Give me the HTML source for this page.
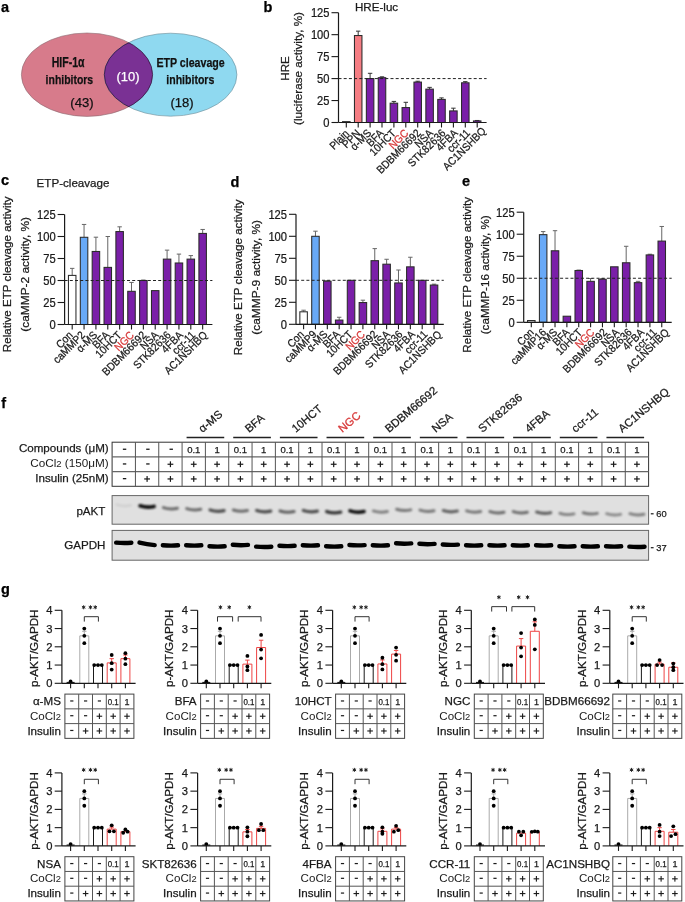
<!DOCTYPE html>
<html><head><meta charset="utf-8"><style>
html,body{margin:0;padding:0;background:#fff;overflow:hidden;}
svg{display:block;will-change:transform;}
text{font-family:"Liberation Sans", sans-serif;}
</style></head><body>
<svg width="685" height="902" viewBox="0 0 685 902">
<rect width="685" height="902" fill="#fff"/>
<text x="1.00" y="11.80" font-size="14.5" text-anchor="start" fill="#000" stroke="#000" stroke-width="0.25" font-weight="bold">a</text>
<text x="263.50" y="12.00" font-size="14.5" text-anchor="start" fill="#000" stroke="#000" stroke-width="0.25" font-weight="bold">b</text>
<text x="1.00" y="185.00" font-size="14.5" text-anchor="start" fill="#000" stroke="#000" stroke-width="0.25" font-weight="bold">c</text>
<text x="230.50" y="187.00" font-size="14.5" text-anchor="start" fill="#000" stroke="#000" stroke-width="0.25" font-weight="bold">d</text>
<text x="462.00" y="185.50" font-size="14.5" text-anchor="start" fill="#000" stroke="#000" stroke-width="0.25" font-weight="bold">e</text>
<text x="1.20" y="407.80" font-size="14.5" text-anchor="start" fill="#000" stroke="#000" stroke-width="0.25" font-weight="bold">f</text>
<text x="1.00" y="594.00" font-size="14.5" text-anchor="start" fill="#000" stroke="#000" stroke-width="0.25" font-weight="bold">g</text>
<clipPath id="clipL"><ellipse cx="87" cy="74.7" rx="65.6" ry="41.7"/></clipPath>
<clipPath id="clipR"><ellipse cx="170.6" cy="74.7" rx="66.3" ry="41.5"/></clipPath>
<ellipse cx="87" cy="74.7" rx="65.6" ry="41.7" fill="#d77b8b" stroke="#8a6a70" stroke-width="0.6"/>
<ellipse cx="170.6" cy="74.7" rx="66.3" ry="41.5" fill="#8fd9f0" stroke="#6a8a95" stroke-width="0.6"/>
<ellipse cx="170.6" cy="74.7" rx="66.3" ry="41.5" fill="#7a3194" stroke="#2a1030" stroke-width="0.7" clip-path="url(#clipL)"/>
<ellipse cx="87" cy="74.7" rx="65.6" ry="41.7" fill="none" stroke="#2a1030" stroke-width="0.7" clip-path="url(#clipR)"/>
<text x="68.10" y="67.40" font-size="14" text-anchor="middle" fill="#111" stroke="#111" stroke-width="0.25" font-weight="bold" textLength="32.80" lengthAdjust="spacingAndGlyphs">HIF-1α</text>
<text x="69.40" y="84.20" font-size="13.6" text-anchor="middle" fill="#111" stroke="#111" stroke-width="0.25" font-weight="bold" textLength="47.60" lengthAdjust="spacingAndGlyphs">inhibitors</text>
<text x="82.00" y="107.20" font-size="13.2" text-anchor="middle" fill="#111" stroke="#111" stroke-width="0.25" textLength="23.30" lengthAdjust="spacingAndGlyphs">(43)</text>
<text x="128.00" y="81.00" font-size="13.2" text-anchor="middle" fill="#fff" stroke="#fff" stroke-width="0.25" textLength="23.00" lengthAdjust="spacingAndGlyphs">(10)</text>
<text x="190.60" y="67.00" font-size="13.6" text-anchor="middle" fill="#111" stroke="#111" stroke-width="0.25" font-weight="bold" textLength="68.30" lengthAdjust="spacingAndGlyphs">ETP cleavage</text>
<text x="190.30" y="83.60" font-size="13.6" text-anchor="middle" fill="#111" stroke="#111" stroke-width="0.25" font-weight="bold" textLength="48.00" lengthAdjust="spacingAndGlyphs">inhibitors</text>
<text x="182.10" y="107.00" font-size="13.2" text-anchor="middle" fill="#111" stroke="#111" stroke-width="0.25" textLength="23.20" lengthAdjust="spacingAndGlyphs">(18)</text>
<rect x="342.55" y="121.62" width="7.50" height="0.88" fill="#fff" stroke="#2a2a2a" stroke-width="1.05" />
<line x1="358.20" y1="35.54" x2="358.20" y2="31.15" stroke="#333" stroke-width="1" />
<line x1="356.00" y1="31.15" x2="360.40" y2="31.15" stroke="#333" stroke-width="1" />
<rect x="354.45" y="35.54" width="7.50" height="86.96" fill="#f57d83" stroke="#2a2a2a" stroke-width="1.05" />
<line x1="370.10" y1="78.58" x2="370.10" y2="73.31" stroke="#333" stroke-width="1" />
<line x1="367.90" y1="73.31" x2="372.30" y2="73.31" stroke="#333" stroke-width="1" />
<rect x="366.35" y="78.58" width="7.50" height="43.92" fill="#7a1fa8" stroke="#2a2a2a" stroke-width="1.05" />
<line x1="382.00" y1="77.70" x2="382.00" y2="76.82" stroke="#333" stroke-width="1" />
<line x1="379.80" y1="76.82" x2="384.20" y2="76.82" stroke="#333" stroke-width="1" />
<rect x="378.25" y="77.70" width="7.50" height="44.80" fill="#7a1fa8" stroke="#2a2a2a" stroke-width="1.05" />
<line x1="393.90" y1="103.18" x2="393.90" y2="101.42" stroke="#333" stroke-width="1" />
<line x1="391.70" y1="101.42" x2="396.10" y2="101.42" stroke="#333" stroke-width="1" />
<rect x="390.15" y="103.18" width="7.50" height="19.32" fill="#7a1fa8" stroke="#2a2a2a" stroke-width="1.05" />
<line x1="405.80" y1="107.57" x2="405.80" y2="102.30" stroke="#333" stroke-width="1" />
<line x1="403.60" y1="102.30" x2="408.00" y2="102.30" stroke="#333" stroke-width="1" />
<rect x="402.05" y="107.57" width="7.50" height="14.93" fill="#7a1fa8" stroke="#2a2a2a" stroke-width="1.05" />
<line x1="417.70" y1="82.09" x2="417.70" y2="81.22" stroke="#333" stroke-width="1" />
<line x1="415.50" y1="81.22" x2="419.90" y2="81.22" stroke="#333" stroke-width="1" />
<rect x="413.95" y="82.09" width="7.50" height="40.41" fill="#7a1fa8" stroke="#2a2a2a" stroke-width="1.05" />
<line x1="429.60" y1="89.12" x2="429.60" y2="87.36" stroke="#333" stroke-width="1" />
<line x1="427.40" y1="87.36" x2="431.80" y2="87.36" stroke="#333" stroke-width="1" />
<rect x="425.85" y="89.12" width="7.50" height="33.38" fill="#7a1fa8" stroke="#2a2a2a" stroke-width="1.05" />
<line x1="441.50" y1="99.40" x2="441.50" y2="97.90" stroke="#333" stroke-width="1" />
<line x1="439.30" y1="97.90" x2="443.70" y2="97.90" stroke="#333" stroke-width="1" />
<rect x="437.75" y="99.40" width="7.50" height="23.10" fill="#7a1fa8" stroke="#2a2a2a" stroke-width="1.05" />
<line x1="453.40" y1="110.91" x2="453.40" y2="108.18" stroke="#333" stroke-width="1" />
<line x1="451.20" y1="108.18" x2="455.60" y2="108.18" stroke="#333" stroke-width="1" />
<rect x="449.65" y="110.91" width="7.50" height="11.59" fill="#7a1fa8" stroke="#2a2a2a" stroke-width="1.05" />
<line x1="465.30" y1="82.80" x2="465.30" y2="81.65" stroke="#333" stroke-width="1" />
<line x1="463.10" y1="81.65" x2="467.50" y2="81.65" stroke="#333" stroke-width="1" />
<rect x="461.55" y="82.80" width="7.50" height="39.70" fill="#7a1fa8" stroke="#2a2a2a" stroke-width="1.05" />
<line x1="477.20" y1="120.92" x2="477.20" y2="120.48" stroke="#333" stroke-width="1" />
<line x1="475.00" y1="120.48" x2="479.40" y2="120.48" stroke="#333" stroke-width="1" />
<rect x="473.45" y="120.92" width="7.50" height="1.58" fill="#7a1fa8" stroke="#2a2a2a" stroke-width="1.05" />
<line x1="338.50" y1="78.58" x2="486.60" y2="78.58" stroke="#222" stroke-width="1" stroke-dasharray="3,2.2"/>
<line x1="338.50" y1="12.70" x2="338.50" y2="122.50" stroke="#1a1a1a" stroke-width="1.2" />
<line x1="331.50" y1="122.50" x2="338.50" y2="122.50" stroke="#1a1a1a" stroke-width="1.1" />
<text x="0" y="0" font-size="12" text-anchor="end" fill="#1a1a1a" stroke="#1a1a1a" stroke-width="0.25" transform="translate(329.50,126.80) scale(0.93,1)">0</text>
<line x1="331.50" y1="100.54" x2="338.50" y2="100.54" stroke="#1a1a1a" stroke-width="1.1" />
<text x="0" y="0" font-size="12" text-anchor="end" fill="#1a1a1a" stroke="#1a1a1a" stroke-width="0.25" transform="translate(329.50,104.84) scale(0.93,1)">25</text>
<line x1="331.50" y1="78.58" x2="338.50" y2="78.58" stroke="#1a1a1a" stroke-width="1.1" />
<text x="0" y="0" font-size="12" text-anchor="end" fill="#1a1a1a" stroke="#1a1a1a" stroke-width="0.25" transform="translate(329.50,82.88) scale(0.93,1)">50</text>
<line x1="331.50" y1="56.62" x2="338.50" y2="56.62" stroke="#1a1a1a" stroke-width="1.1" />
<text x="0" y="0" font-size="12" text-anchor="end" fill="#1a1a1a" stroke="#1a1a1a" stroke-width="0.25" transform="translate(329.50,60.92) scale(0.93,1)">75</text>
<line x1="331.50" y1="34.66" x2="338.50" y2="34.66" stroke="#1a1a1a" stroke-width="1.1" />
<text x="0" y="0" font-size="12" text-anchor="end" fill="#1a1a1a" stroke="#1a1a1a" stroke-width="0.25" transform="translate(329.50,38.96) scale(0.93,1)">100</text>
<line x1="331.50" y1="12.70" x2="338.50" y2="12.70" stroke="#1a1a1a" stroke-width="1.1" />
<text x="0" y="0" font-size="12" text-anchor="end" fill="#1a1a1a" stroke="#1a1a1a" stroke-width="0.25" transform="translate(329.50,17.00) scale(0.93,1)">125</text>
<line x1="338.50" y1="122.50" x2="486.60" y2="122.50" stroke="#1a1a1a" stroke-width="1.2" />
<line x1="346.30" y1="122.50" x2="346.30" y2="127.50" stroke="#1a1a1a" stroke-width="1.1" />
<text x="0" y="0" font-size="11" text-anchor="end" fill="#1a1a1a" stroke="#1a1a1a" stroke-width="0.25" transform="translate(349.80,134.30) rotate(-45) scale(0.92,1)">Plain</text>
<line x1="358.20" y1="122.50" x2="358.20" y2="127.50" stroke="#1a1a1a" stroke-width="1.1" />
<text x="0" y="0" font-size="11" text-anchor="end" fill="#1a1a1a" stroke="#1a1a1a" stroke-width="0.25" transform="translate(361.15,134.10) rotate(-45) scale(0.92,1)">PPN</text>
<line x1="370.10" y1="122.50" x2="370.10" y2="127.50" stroke="#1a1a1a" stroke-width="1.1" />
<text x="0" y="0" font-size="11" text-anchor="end" fill="#1a1a1a" stroke="#1a1a1a" stroke-width="0.25" transform="translate(372.00,133.80) rotate(-45) scale(0.92,1)">α-MS</text>
<line x1="382.00" y1="122.50" x2="382.00" y2="127.50" stroke="#1a1a1a" stroke-width="1.1" />
<text x="0" y="0" font-size="11" text-anchor="end" fill="#1a1a1a" stroke="#1a1a1a" stroke-width="0.25" transform="translate(384.35,133.80) rotate(-45) scale(0.92,1)">BFA</text>
<line x1="393.90" y1="122.50" x2="393.90" y2="127.50" stroke="#1a1a1a" stroke-width="1.1" />
<text x="0" y="0" font-size="11" text-anchor="end" fill="#1a1a1a" stroke="#1a1a1a" stroke-width="0.25" transform="translate(396.70,133.80) rotate(-45) scale(0.92,1)">10HCT</text>
<line x1="405.80" y1="122.50" x2="405.80" y2="127.50" stroke="#1a1a1a" stroke-width="1.1" />
<text x="0" y="0" font-size="11" text-anchor="end" fill="#d83a3a" stroke="#d83a3a" stroke-width="0.25" transform="translate(409.05,133.80) rotate(-45) scale(0.92,1)">NGC</text>
<line x1="417.70" y1="122.50" x2="417.70" y2="127.50" stroke="#1a1a1a" stroke-width="1.1" />
<text x="0" y="0" font-size="11" text-anchor="end" fill="#1a1a1a" stroke="#1a1a1a" stroke-width="0.25" transform="translate(421.40,133.80) rotate(-45) scale(0.92,1)">BDBM66692</text>
<line x1="429.60" y1="122.50" x2="429.60" y2="127.50" stroke="#1a1a1a" stroke-width="1.1" />
<text x="0" y="0" font-size="11" text-anchor="end" fill="#1a1a1a" stroke="#1a1a1a" stroke-width="0.25" transform="translate(433.75,133.80) rotate(-45) scale(0.92,1)">NSA</text>
<line x1="441.50" y1="122.50" x2="441.50" y2="127.50" stroke="#1a1a1a" stroke-width="1.1" />
<text x="0" y="0" font-size="11" text-anchor="end" fill="#1a1a1a" stroke="#1a1a1a" stroke-width="0.25" transform="translate(446.10,133.80) rotate(-45) scale(0.92,1)">STK82636</text>
<line x1="453.40" y1="122.50" x2="453.40" y2="127.50" stroke="#1a1a1a" stroke-width="1.1" />
<text x="0" y="0" font-size="11" text-anchor="end" fill="#1a1a1a" stroke="#1a1a1a" stroke-width="0.25" transform="translate(458.45,133.80) rotate(-45) scale(0.92,1)">4FBA</text>
<line x1="465.30" y1="122.50" x2="465.30" y2="127.50" stroke="#1a1a1a" stroke-width="1.1" />
<text x="0" y="0" font-size="11" text-anchor="end" fill="#1a1a1a" stroke="#1a1a1a" stroke-width="0.25" transform="translate(470.80,133.80) rotate(-45) scale(0.92,1)">ccr-11</text>
<line x1="477.20" y1="122.50" x2="477.20" y2="127.50" stroke="#1a1a1a" stroke-width="1.1" />
<text x="0" y="0" font-size="11" text-anchor="end" fill="#1a1a1a" stroke="#1a1a1a" stroke-width="0.25" transform="translate(486.65,131.80) rotate(-45) scale(0.92,1)">AC1NSHBQ</text>
<text x="355.00" y="11.40" font-size="11.6" text-anchor="start" fill="#1a1a1a" stroke="#1a1a1a" stroke-width="0.25">HRE-luc</text>
<text x="0" y="0" font-size="11.6" text-anchor="middle" fill="#1a1a1a" stroke="#1a1a1a" stroke-width="0.25" transform="translate(288.80,68.50) rotate(-90)">HRE</text>
<text x="0" y="0" font-size="11.6" text-anchor="middle" fill="#1a1a1a" stroke="#1a1a1a" stroke-width="0.25" textLength="113.00" lengthAdjust="spacingAndGlyphs" transform="translate(301.80,68.50) rotate(-90)">(luciferase activity, %)</text>
<line x1="72.20" y1="275.40" x2="72.20" y2="268.36" stroke="#666" stroke-width="1" />
<line x1="70.00" y1="268.36" x2="74.40" y2="268.36" stroke="#666" stroke-width="1" />
<rect x="68.45" y="275.40" width="7.50" height="49.10" fill="#fff" stroke="#2a2a2a" stroke-width="1.05" />
<line x1="84.06" y1="237.29" x2="84.06" y2="224.44" stroke="#666" stroke-width="1" />
<line x1="81.86" y1="224.44" x2="86.26" y2="224.44" stroke="#666" stroke-width="1" />
<rect x="80.31" y="237.29" width="7.50" height="87.21" fill="#68a9f7" stroke="#2a2a2a" stroke-width="1.05" />
<line x1="95.92" y1="251.46" x2="95.92" y2="237.20" stroke="#666" stroke-width="1" />
<line x1="93.72" y1="237.20" x2="98.12" y2="237.20" stroke="#666" stroke-width="1" />
<rect x="92.17" y="251.46" width="7.50" height="73.04" fill="#7a1fa8" stroke="#2a2a2a" stroke-width="1.05" />
<line x1="107.78" y1="267.39" x2="107.78" y2="236.50" stroke="#666" stroke-width="1" />
<line x1="105.58" y1="236.50" x2="109.98" y2="236.50" stroke="#666" stroke-width="1" />
<rect x="104.03" y="267.39" width="7.50" height="57.11" fill="#7a1fa8" stroke="#2a2a2a" stroke-width="1.05" />
<line x1="119.64" y1="231.57" x2="119.64" y2="226.82" stroke="#666" stroke-width="1" />
<line x1="117.44" y1="226.82" x2="121.84" y2="226.82" stroke="#666" stroke-width="1" />
<rect x="115.89" y="231.57" width="7.50" height="92.93" fill="#7a1fa8" stroke="#2a2a2a" stroke-width="1.05" />
<line x1="131.50" y1="291.32" x2="131.50" y2="282.44" stroke="#666" stroke-width="1" />
<line x1="129.30" y1="282.44" x2="133.70" y2="282.44" stroke="#666" stroke-width="1" />
<rect x="127.75" y="291.32" width="7.50" height="33.18" fill="#7a1fa8" stroke="#2a2a2a" stroke-width="1.05" />
<line x1="143.36" y1="280.50" x2="143.36" y2="280.06" stroke="#666" stroke-width="1" />
<line x1="141.16" y1="280.06" x2="145.56" y2="280.06" stroke="#666" stroke-width="1" />
<rect x="139.61" y="280.50" width="7.50" height="44.00" fill="#7a1fa8" stroke="#2a2a2a" stroke-width="1.05" />
<rect x="151.47" y="290.62" width="7.50" height="33.88" fill="#7a1fa8" stroke="#2a2a2a" stroke-width="1.05" />
<line x1="167.08" y1="259.12" x2="167.08" y2="250.14" stroke="#666" stroke-width="1" />
<line x1="164.88" y1="250.14" x2="169.28" y2="250.14" stroke="#666" stroke-width="1" />
<rect x="163.33" y="259.12" width="7.50" height="65.38" fill="#7a1fa8" stroke="#2a2a2a" stroke-width="1.05" />
<line x1="178.94" y1="262.99" x2="178.94" y2="254.10" stroke="#666" stroke-width="1" />
<line x1="176.74" y1="254.10" x2="181.14" y2="254.10" stroke="#666" stroke-width="1" />
<rect x="175.19" y="262.99" width="7.50" height="61.51" fill="#7a1fa8" stroke="#2a2a2a" stroke-width="1.05" />
<line x1="190.80" y1="259.12" x2="190.80" y2="255.60" stroke="#666" stroke-width="1" />
<line x1="188.60" y1="255.60" x2="193.00" y2="255.60" stroke="#666" stroke-width="1" />
<rect x="187.05" y="259.12" width="7.50" height="65.38" fill="#7a1fa8" stroke="#2a2a2a" stroke-width="1.05" />
<line x1="202.66" y1="233.42" x2="202.66" y2="229.46" stroke="#666" stroke-width="1" />
<line x1="200.46" y1="229.46" x2="204.86" y2="229.46" stroke="#666" stroke-width="1" />
<rect x="198.91" y="233.42" width="7.50" height="91.08" fill="#7a1fa8" stroke="#2a2a2a" stroke-width="1.05" />
<line x1="64.60" y1="280.50" x2="212.40" y2="280.50" stroke="#222" stroke-width="1" stroke-dasharray="3,2.2"/>
<line x1="64.60" y1="214.50" x2="64.60" y2="324.50" stroke="#1a1a1a" stroke-width="1.2" />
<line x1="57.60" y1="324.50" x2="64.60" y2="324.50" stroke="#1a1a1a" stroke-width="1.1" />
<text x="0" y="0" font-size="12" text-anchor="end" fill="#1a1a1a" stroke="#1a1a1a" stroke-width="0.25" transform="translate(55.60,328.80) scale(0.93,1)">0</text>
<line x1="57.60" y1="302.50" x2="64.60" y2="302.50" stroke="#1a1a1a" stroke-width="1.1" />
<text x="0" y="0" font-size="12" text-anchor="end" fill="#1a1a1a" stroke="#1a1a1a" stroke-width="0.25" transform="translate(55.60,306.80) scale(0.93,1)">25</text>
<line x1="57.60" y1="280.50" x2="64.60" y2="280.50" stroke="#1a1a1a" stroke-width="1.1" />
<text x="0" y="0" font-size="12" text-anchor="end" fill="#1a1a1a" stroke="#1a1a1a" stroke-width="0.25" transform="translate(55.60,284.80) scale(0.93,1)">50</text>
<line x1="57.60" y1="258.50" x2="64.60" y2="258.50" stroke="#1a1a1a" stroke-width="1.1" />
<text x="0" y="0" font-size="12" text-anchor="end" fill="#1a1a1a" stroke="#1a1a1a" stroke-width="0.25" transform="translate(55.60,262.80) scale(0.93,1)">75</text>
<line x1="57.60" y1="236.50" x2="64.60" y2="236.50" stroke="#1a1a1a" stroke-width="1.1" />
<text x="0" y="0" font-size="12" text-anchor="end" fill="#1a1a1a" stroke="#1a1a1a" stroke-width="0.25" transform="translate(55.60,240.80) scale(0.93,1)">100</text>
<line x1="57.60" y1="214.50" x2="64.60" y2="214.50" stroke="#1a1a1a" stroke-width="1.1" />
<text x="0" y="0" font-size="12" text-anchor="end" fill="#1a1a1a" stroke="#1a1a1a" stroke-width="0.25" transform="translate(55.60,218.80) scale(0.93,1)">125</text>
<line x1="64.60" y1="324.50" x2="212.40" y2="324.50" stroke="#1a1a1a" stroke-width="1.2" />
<line x1="72.20" y1="324.50" x2="72.20" y2="329.50" stroke="#1a1a1a" stroke-width="1.1" />
<text x="0" y="0" font-size="11" text-anchor="end" fill="#1a1a1a" stroke="#1a1a1a" stroke-width="0.25" transform="translate(73.50,335.80) rotate(-45) scale(0.92,1)">Con</text>
<line x1="84.06" y1="324.50" x2="84.06" y2="329.50" stroke="#1a1a1a" stroke-width="1.1" />
<text x="0" y="0" font-size="11" text-anchor="end" fill="#1a1a1a" stroke="#1a1a1a" stroke-width="0.25" transform="translate(85.74,335.80) rotate(-45) scale(0.92,1)">caMMP2</text>
<line x1="95.92" y1="324.50" x2="95.92" y2="329.50" stroke="#1a1a1a" stroke-width="1.1" />
<text x="0" y="0" font-size="11" text-anchor="end" fill="#1a1a1a" stroke="#1a1a1a" stroke-width="0.25" transform="translate(97.98,335.80) rotate(-45) scale(0.92,1)">α-MS</text>
<line x1="107.78" y1="324.50" x2="107.78" y2="329.50" stroke="#1a1a1a" stroke-width="1.1" />
<text x="0" y="0" font-size="11" text-anchor="end" fill="#1a1a1a" stroke="#1a1a1a" stroke-width="0.25" transform="translate(110.22,335.80) rotate(-45) scale(0.92,1)">BFA</text>
<line x1="119.64" y1="324.50" x2="119.64" y2="329.50" stroke="#1a1a1a" stroke-width="1.1" />
<text x="0" y="0" font-size="11" text-anchor="end" fill="#1a1a1a" stroke="#1a1a1a" stroke-width="0.25" transform="translate(122.46,335.80) rotate(-45) scale(0.92,1)">10HCT</text>
<line x1="131.50" y1="324.50" x2="131.50" y2="329.50" stroke="#1a1a1a" stroke-width="1.1" />
<text x="0" y="0" font-size="11" text-anchor="end" fill="#d83a3a" stroke="#d83a3a" stroke-width="0.25" transform="translate(134.70,335.80) rotate(-45) scale(0.92,1)">NGC</text>
<line x1="143.36" y1="324.50" x2="143.36" y2="329.50" stroke="#1a1a1a" stroke-width="1.1" />
<text x="0" y="0" font-size="11" text-anchor="end" fill="#1a1a1a" stroke="#1a1a1a" stroke-width="0.25" transform="translate(146.94,335.80) rotate(-45) scale(0.92,1)">BDBM66692</text>
<line x1="155.22" y1="324.50" x2="155.22" y2="329.50" stroke="#1a1a1a" stroke-width="1.1" />
<text x="0" y="0" font-size="11" text-anchor="end" fill="#1a1a1a" stroke="#1a1a1a" stroke-width="0.25" transform="translate(159.18,335.80) rotate(-45) scale(0.92,1)">NSA</text>
<line x1="167.08" y1="324.50" x2="167.08" y2="329.50" stroke="#1a1a1a" stroke-width="1.1" />
<text x="0" y="0" font-size="11" text-anchor="end" fill="#1a1a1a" stroke="#1a1a1a" stroke-width="0.25" transform="translate(171.42,335.80) rotate(-45) scale(0.92,1)">STK82636</text>
<line x1="178.94" y1="324.50" x2="178.94" y2="329.50" stroke="#1a1a1a" stroke-width="1.1" />
<text x="0" y="0" font-size="11" text-anchor="end" fill="#1a1a1a" stroke="#1a1a1a" stroke-width="0.25" transform="translate(183.66,335.80) rotate(-45) scale(0.92,1)">4FBA</text>
<line x1="190.80" y1="324.50" x2="190.80" y2="329.50" stroke="#1a1a1a" stroke-width="1.1" />
<text x="0" y="0" font-size="11" text-anchor="end" fill="#1a1a1a" stroke="#1a1a1a" stroke-width="0.25" transform="translate(195.90,335.80) rotate(-45) scale(0.92,1)">ccr-11</text>
<line x1="202.66" y1="324.50" x2="202.66" y2="329.50" stroke="#1a1a1a" stroke-width="1.1" />
<text x="0" y="0" font-size="11" text-anchor="end" fill="#1a1a1a" stroke="#1a1a1a" stroke-width="0.25" transform="translate(208.14,335.80) rotate(-45) scale(0.92,1)">AC1NSHBQ</text>
<text x="36.60" y="187.10" font-size="11.6" text-anchor="start" fill="#1a1a1a" stroke="#1a1a1a" stroke-width="0.25">ETP-cleavage</text>
<text x="0" y="0" font-size="11.6" text-anchor="middle" fill="#1a1a1a" stroke="#1a1a1a" stroke-width="0.25" textLength="155.80" lengthAdjust="spacingAndGlyphs" transform="translate(10.80,274.30) rotate(-90)">Relative ETP cleavage activity</text>
<text x="0" y="0" font-size="11.6" text-anchor="middle" fill="#1a1a1a" stroke="#1a1a1a" stroke-width="0.25" textLength="114.70" lengthAdjust="spacingAndGlyphs" transform="translate(28.60,274.30) rotate(-90)">(caMMP-2 activity, %)</text>
<line x1="303.60" y1="311.80" x2="303.60" y2="310.22" stroke="#666" stroke-width="1" />
<line x1="301.40" y1="310.22" x2="305.80" y2="310.22" stroke="#666" stroke-width="1" />
<rect x="299.85" y="311.80" width="7.50" height="12.50" fill="#fff" stroke="#2a2a2a" stroke-width="1.05" />
<line x1="315.46" y1="236.30" x2="315.46" y2="231.20" stroke="#666" stroke-width="1" />
<line x1="313.26" y1="231.20" x2="317.66" y2="231.20" stroke="#666" stroke-width="1" />
<rect x="311.71" y="236.30" width="7.50" height="88.00" fill="#68a9f7" stroke="#2a2a2a" stroke-width="1.05" />
<line x1="327.32" y1="281.18" x2="327.32" y2="280.74" stroke="#666" stroke-width="1" />
<line x1="325.12" y1="280.74" x2="329.52" y2="280.74" stroke="#666" stroke-width="1" />
<rect x="323.57" y="281.18" width="7.50" height="43.12" fill="#7a1fa8" stroke="#2a2a2a" stroke-width="1.05" />
<line x1="339.18" y1="320.08" x2="339.18" y2="317.26" stroke="#666" stroke-width="1" />
<line x1="336.98" y1="317.26" x2="341.38" y2="317.26" stroke="#666" stroke-width="1" />
<rect x="335.43" y="320.08" width="7.50" height="4.22" fill="#7a1fa8" stroke="#2a2a2a" stroke-width="1.05" />
<rect x="347.29" y="280.30" width="7.50" height="44.00" fill="#7a1fa8" stroke="#2a2a2a" stroke-width="1.05" />
<line x1="362.90" y1="302.56" x2="362.90" y2="300.19" stroke="#666" stroke-width="1" />
<line x1="360.70" y1="300.19" x2="365.10" y2="300.19" stroke="#666" stroke-width="1" />
<rect x="359.15" y="302.56" width="7.50" height="21.74" fill="#7a1fa8" stroke="#2a2a2a" stroke-width="1.05" />
<line x1="374.76" y1="260.68" x2="374.76" y2="248.62" stroke="#666" stroke-width="1" />
<line x1="372.56" y1="248.62" x2="376.96" y2="248.62" stroke="#666" stroke-width="1" />
<rect x="371.01" y="260.68" width="7.50" height="63.62" fill="#7a1fa8" stroke="#2a2a2a" stroke-width="1.05" />
<line x1="386.62" y1="264.20" x2="386.62" y2="259.27" stroke="#666" stroke-width="1" />
<line x1="384.42" y1="259.27" x2="388.82" y2="259.27" stroke="#666" stroke-width="1" />
<rect x="382.87" y="264.20" width="7.50" height="60.10" fill="#7a1fa8" stroke="#2a2a2a" stroke-width="1.05" />
<line x1="398.48" y1="282.94" x2="398.48" y2="270.00" stroke="#666" stroke-width="1" />
<line x1="396.28" y1="270.00" x2="400.68" y2="270.00" stroke="#666" stroke-width="1" />
<rect x="394.73" y="282.94" width="7.50" height="41.36" fill="#7a1fa8" stroke="#2a2a2a" stroke-width="1.05" />
<line x1="410.34" y1="266.84" x2="410.34" y2="257.24" stroke="#666" stroke-width="1" />
<line x1="408.14" y1="257.24" x2="412.54" y2="257.24" stroke="#666" stroke-width="1" />
<rect x="406.59" y="266.84" width="7.50" height="57.46" fill="#7a1fa8" stroke="#2a2a2a" stroke-width="1.05" />
<rect x="418.45" y="280.30" width="7.50" height="44.00" fill="#7a1fa8" stroke="#2a2a2a" stroke-width="1.05" />
<line x1="434.06" y1="285.05" x2="434.06" y2="284.17" stroke="#666" stroke-width="1" />
<line x1="431.86" y1="284.17" x2="436.26" y2="284.17" stroke="#666" stroke-width="1" />
<rect x="430.31" y="285.05" width="7.50" height="39.25" fill="#7a1fa8" stroke="#2a2a2a" stroke-width="1.05" />
<line x1="296.00" y1="280.30" x2="443.80" y2="280.30" stroke="#222" stroke-width="1" stroke-dasharray="3,2.2"/>
<line x1="296.00" y1="214.30" x2="296.00" y2="324.30" stroke="#1a1a1a" stroke-width="1.2" />
<line x1="289.00" y1="324.30" x2="296.00" y2="324.30" stroke="#1a1a1a" stroke-width="1.1" />
<text x="0" y="0" font-size="12" text-anchor="end" fill="#1a1a1a" stroke="#1a1a1a" stroke-width="0.25" transform="translate(287.00,328.60) scale(0.93,1)">0</text>
<line x1="289.00" y1="302.30" x2="296.00" y2="302.30" stroke="#1a1a1a" stroke-width="1.1" />
<text x="0" y="0" font-size="12" text-anchor="end" fill="#1a1a1a" stroke="#1a1a1a" stroke-width="0.25" transform="translate(287.00,306.60) scale(0.93,1)">25</text>
<line x1="289.00" y1="280.30" x2="296.00" y2="280.30" stroke="#1a1a1a" stroke-width="1.1" />
<text x="0" y="0" font-size="12" text-anchor="end" fill="#1a1a1a" stroke="#1a1a1a" stroke-width="0.25" transform="translate(287.00,284.60) scale(0.93,1)">50</text>
<line x1="289.00" y1="258.30" x2="296.00" y2="258.30" stroke="#1a1a1a" stroke-width="1.1" />
<text x="0" y="0" font-size="12" text-anchor="end" fill="#1a1a1a" stroke="#1a1a1a" stroke-width="0.25" transform="translate(287.00,262.60) scale(0.93,1)">75</text>
<line x1="289.00" y1="236.30" x2="296.00" y2="236.30" stroke="#1a1a1a" stroke-width="1.1" />
<text x="0" y="0" font-size="12" text-anchor="end" fill="#1a1a1a" stroke="#1a1a1a" stroke-width="0.25" transform="translate(287.00,240.60) scale(0.93,1)">100</text>
<line x1="289.00" y1="214.30" x2="296.00" y2="214.30" stroke="#1a1a1a" stroke-width="1.1" />
<text x="0" y="0" font-size="12" text-anchor="end" fill="#1a1a1a" stroke="#1a1a1a" stroke-width="0.25" transform="translate(287.00,218.60) scale(0.93,1)">125</text>
<line x1="296.00" y1="324.30" x2="443.80" y2="324.30" stroke="#1a1a1a" stroke-width="1.2" />
<line x1="303.60" y1="324.30" x2="303.60" y2="329.30" stroke="#1a1a1a" stroke-width="1.1" />
<text x="0" y="0" font-size="11" text-anchor="end" fill="#1a1a1a" stroke="#1a1a1a" stroke-width="0.25" transform="translate(304.80,335.10) rotate(-45) scale(0.92,1)">Con</text>
<line x1="315.46" y1="324.30" x2="315.46" y2="329.30" stroke="#1a1a1a" stroke-width="1.1" />
<text x="0" y="0" font-size="11" text-anchor="end" fill="#1a1a1a" stroke="#1a1a1a" stroke-width="0.25" transform="translate(317.29,335.10) rotate(-45) scale(0.92,1)">caMMP9</text>
<line x1="327.32" y1="324.30" x2="327.32" y2="329.30" stroke="#1a1a1a" stroke-width="1.1" />
<text x="0" y="0" font-size="11" text-anchor="end" fill="#1a1a1a" stroke="#1a1a1a" stroke-width="0.25" transform="translate(328.28,335.10) rotate(-45) scale(0.92,1)">α-MS</text>
<line x1="339.18" y1="324.30" x2="339.18" y2="329.30" stroke="#1a1a1a" stroke-width="1.1" />
<text x="0" y="0" font-size="11" text-anchor="end" fill="#1a1a1a" stroke="#1a1a1a" stroke-width="0.25" transform="translate(340.77,335.10) rotate(-45) scale(0.92,1)">BFA</text>
<line x1="351.04" y1="324.30" x2="351.04" y2="329.30" stroke="#1a1a1a" stroke-width="1.1" />
<text x="0" y="0" font-size="11" text-anchor="end" fill="#1a1a1a" stroke="#1a1a1a" stroke-width="0.25" transform="translate(353.26,335.10) rotate(-45) scale(0.92,1)">10HCT</text>
<line x1="362.90" y1="324.30" x2="362.90" y2="329.30" stroke="#1a1a1a" stroke-width="1.1" />
<text x="0" y="0" font-size="11" text-anchor="end" fill="#d83a3a" stroke="#d83a3a" stroke-width="0.25" transform="translate(365.75,335.10) rotate(-45) scale(0.92,1)">NGC</text>
<line x1="374.76" y1="324.30" x2="374.76" y2="329.30" stroke="#1a1a1a" stroke-width="1.1" />
<text x="0" y="0" font-size="11" text-anchor="end" fill="#1a1a1a" stroke="#1a1a1a" stroke-width="0.25" transform="translate(378.24,335.10) rotate(-45) scale(0.92,1)">BDBM66692</text>
<line x1="386.62" y1="324.30" x2="386.62" y2="329.30" stroke="#1a1a1a" stroke-width="1.1" />
<text x="0" y="0" font-size="11" text-anchor="end" fill="#1a1a1a" stroke="#1a1a1a" stroke-width="0.25" transform="translate(390.73,335.10) rotate(-45) scale(0.92,1)">NSA</text>
<line x1="398.48" y1="324.30" x2="398.48" y2="329.30" stroke="#1a1a1a" stroke-width="1.1" />
<text x="0" y="0" font-size="11" text-anchor="end" fill="#1a1a1a" stroke="#1a1a1a" stroke-width="0.25" transform="translate(403.22,335.10) rotate(-45) scale(0.92,1)">STK82636</text>
<line x1="410.34" y1="324.30" x2="410.34" y2="329.30" stroke="#1a1a1a" stroke-width="1.1" />
<text x="0" y="0" font-size="11" text-anchor="end" fill="#1a1a1a" stroke="#1a1a1a" stroke-width="0.25" transform="translate(415.71,335.10) rotate(-45) scale(0.92,1)">4FBA</text>
<line x1="422.20" y1="324.30" x2="422.20" y2="329.30" stroke="#1a1a1a" stroke-width="1.1" />
<text x="0" y="0" font-size="11" text-anchor="end" fill="#1a1a1a" stroke="#1a1a1a" stroke-width="0.25" transform="translate(428.20,335.10) rotate(-45) scale(0.92,1)">ccr-11</text>
<line x1="434.06" y1="324.30" x2="434.06" y2="329.30" stroke="#1a1a1a" stroke-width="1.1" />
<text x="0" y="0" font-size="11" text-anchor="end" fill="#1a1a1a" stroke="#1a1a1a" stroke-width="0.25" transform="translate(442.19,335.10) rotate(-45) scale(0.92,1)">AC1NSHBQ</text>
<text x="0" y="0" font-size="11.6" text-anchor="middle" fill="#1a1a1a" stroke="#1a1a1a" stroke-width="0.25" textLength="155.80" lengthAdjust="spacingAndGlyphs" transform="translate(242.20,277.30) rotate(-90)">Relative ETP cleavage activity</text>
<text x="0" y="0" font-size="11.6" text-anchor="middle" fill="#1a1a1a" stroke="#1a1a1a" stroke-width="0.25" textLength="114.70" lengthAdjust="spacingAndGlyphs" transform="translate(260.00,277.30) rotate(-90)">(caMMP-9 activity, %)</text>
<rect x="527.55" y="320.54" width="7.50" height="1.76" fill="#fff" stroke="#2a2a2a" stroke-width="1.05" />
<line x1="543.16" y1="234.66" x2="543.16" y2="231.58" stroke="#666" stroke-width="1" />
<line x1="540.96" y1="231.58" x2="545.36" y2="231.58" stroke="#666" stroke-width="1" />
<rect x="539.41" y="234.66" width="7.50" height="87.64" fill="#68a9f7" stroke="#2a2a2a" stroke-width="1.05" />
<line x1="555.02" y1="250.78" x2="555.02" y2="230.70" stroke="#666" stroke-width="1" />
<line x1="552.82" y1="230.70" x2="557.22" y2="230.70" stroke="#666" stroke-width="1" />
<rect x="551.27" y="250.78" width="7.50" height="71.52" fill="#7a1fa8" stroke="#2a2a2a" stroke-width="1.05" />
<rect x="563.13" y="316.22" width="7.50" height="6.08" fill="#7a1fa8" stroke="#2a2a2a" stroke-width="1.05" />
<line x1="578.74" y1="270.51" x2="578.74" y2="270.07" stroke="#666" stroke-width="1" />
<line x1="576.54" y1="270.07" x2="580.94" y2="270.07" stroke="#666" stroke-width="1" />
<rect x="574.99" y="270.51" width="7.50" height="51.79" fill="#7a1fa8" stroke="#2a2a2a" stroke-width="1.05" />
<line x1="590.60" y1="281.34" x2="590.60" y2="278.52" stroke="#666" stroke-width="1" />
<line x1="588.40" y1="278.52" x2="592.80" y2="278.52" stroke="#666" stroke-width="1" />
<rect x="586.85" y="281.34" width="7.50" height="40.96" fill="#7a1fa8" stroke="#2a2a2a" stroke-width="1.05" />
<line x1="602.46" y1="279.23" x2="602.46" y2="278.70" stroke="#666" stroke-width="1" />
<line x1="600.26" y1="278.70" x2="604.66" y2="278.70" stroke="#666" stroke-width="1" />
<rect x="598.71" y="279.23" width="7.50" height="43.07" fill="#7a1fa8" stroke="#2a2a2a" stroke-width="1.05" />
<rect x="610.57" y="266.81" width="7.50" height="55.49" fill="#7a1fa8" stroke="#2a2a2a" stroke-width="1.05" />
<line x1="626.18" y1="262.76" x2="626.18" y2="246.29" stroke="#666" stroke-width="1" />
<line x1="623.98" y1="246.29" x2="628.38" y2="246.29" stroke="#666" stroke-width="1" />
<rect x="622.43" y="262.76" width="7.50" height="59.54" fill="#7a1fa8" stroke="#2a2a2a" stroke-width="1.05" />
<line x1="638.04" y1="282.66" x2="638.04" y2="281.34" stroke="#666" stroke-width="1" />
<line x1="635.84" y1="281.34" x2="640.24" y2="281.34" stroke="#666" stroke-width="1" />
<rect x="634.29" y="282.66" width="7.50" height="39.64" fill="#7a1fa8" stroke="#2a2a2a" stroke-width="1.05" />
<line x1="649.90" y1="254.92" x2="649.90" y2="254.21" stroke="#666" stroke-width="1" />
<line x1="647.70" y1="254.21" x2="652.10" y2="254.21" stroke="#666" stroke-width="1" />
<rect x="646.15" y="254.92" width="7.50" height="67.38" fill="#7a1fa8" stroke="#2a2a2a" stroke-width="1.05" />
<line x1="661.76" y1="241.09" x2="661.76" y2="226.47" stroke="#666" stroke-width="1" />
<line x1="659.56" y1="226.47" x2="663.96" y2="226.47" stroke="#666" stroke-width="1" />
<rect x="658.01" y="241.09" width="7.50" height="81.21" fill="#7a1fa8" stroke="#2a2a2a" stroke-width="1.05" />
<line x1="523.70" y1="278.26" x2="671.70" y2="278.26" stroke="#222" stroke-width="1" stroke-dasharray="3,2.2"/>
<line x1="523.70" y1="212.20" x2="523.70" y2="322.30" stroke="#1a1a1a" stroke-width="1.2" />
<line x1="516.70" y1="322.30" x2="523.70" y2="322.30" stroke="#1a1a1a" stroke-width="1.1" />
<text x="0" y="0" font-size="12" text-anchor="end" fill="#1a1a1a" stroke="#1a1a1a" stroke-width="0.25" transform="translate(514.70,326.60) scale(0.93,1)">0</text>
<line x1="516.70" y1="300.28" x2="523.70" y2="300.28" stroke="#1a1a1a" stroke-width="1.1" />
<text x="0" y="0" font-size="12" text-anchor="end" fill="#1a1a1a" stroke="#1a1a1a" stroke-width="0.25" transform="translate(514.70,304.58) scale(0.93,1)">25</text>
<line x1="516.70" y1="278.26" x2="523.70" y2="278.26" stroke="#1a1a1a" stroke-width="1.1" />
<text x="0" y="0" font-size="12" text-anchor="end" fill="#1a1a1a" stroke="#1a1a1a" stroke-width="0.25" transform="translate(514.70,282.56) scale(0.93,1)">50</text>
<line x1="516.70" y1="256.24" x2="523.70" y2="256.24" stroke="#1a1a1a" stroke-width="1.1" />
<text x="0" y="0" font-size="12" text-anchor="end" fill="#1a1a1a" stroke="#1a1a1a" stroke-width="0.25" transform="translate(514.70,260.54) scale(0.93,1)">75</text>
<line x1="516.70" y1="234.22" x2="523.70" y2="234.22" stroke="#1a1a1a" stroke-width="1.1" />
<text x="0" y="0" font-size="12" text-anchor="end" fill="#1a1a1a" stroke="#1a1a1a" stroke-width="0.25" transform="translate(514.70,238.52) scale(0.93,1)">100</text>
<line x1="516.70" y1="212.20" x2="523.70" y2="212.20" stroke="#1a1a1a" stroke-width="1.1" />
<text x="0" y="0" font-size="12" text-anchor="end" fill="#1a1a1a" stroke="#1a1a1a" stroke-width="0.25" transform="translate(514.70,216.50) scale(0.93,1)">125</text>
<line x1="523.70" y1="322.30" x2="671.70" y2="322.30" stroke="#1a1a1a" stroke-width="1.2" />
<line x1="531.30" y1="322.30" x2="531.30" y2="327.30" stroke="#1a1a1a" stroke-width="1.1" />
<text x="0" y="0" font-size="11" text-anchor="end" fill="#1a1a1a" stroke="#1a1a1a" stroke-width="0.25" transform="translate(534.60,333.10) rotate(-45) scale(0.92,1)">Con</text>
<line x1="543.16" y1="322.30" x2="543.16" y2="327.30" stroke="#1a1a1a" stroke-width="1.1" />
<text x="0" y="0" font-size="11" text-anchor="end" fill="#1a1a1a" stroke="#1a1a1a" stroke-width="0.25" transform="translate(547.03,333.10) rotate(-45) scale(0.92,1)">caMMP16</text>
<line x1="555.02" y1="322.30" x2="555.02" y2="327.30" stroke="#1a1a1a" stroke-width="1.1" />
<text x="0" y="0" font-size="11" text-anchor="end" fill="#1a1a1a" stroke="#1a1a1a" stroke-width="0.25" transform="translate(557.96,333.10) rotate(-45) scale(0.92,1)">α-MS</text>
<line x1="566.88" y1="322.30" x2="566.88" y2="327.30" stroke="#1a1a1a" stroke-width="1.1" />
<text x="0" y="0" font-size="11" text-anchor="end" fill="#1a1a1a" stroke="#1a1a1a" stroke-width="0.25" transform="translate(570.39,333.10) rotate(-45) scale(0.92,1)">BFA</text>
<line x1="578.74" y1="322.30" x2="578.74" y2="327.30" stroke="#1a1a1a" stroke-width="1.1" />
<text x="0" y="0" font-size="11" text-anchor="end" fill="#1a1a1a" stroke="#1a1a1a" stroke-width="0.25" transform="translate(582.82,333.10) rotate(-45) scale(0.92,1)">10HCT</text>
<line x1="590.60" y1="322.30" x2="590.60" y2="327.30" stroke="#1a1a1a" stroke-width="1.1" />
<text x="0" y="0" font-size="11" text-anchor="end" fill="#d83a3a" stroke="#d83a3a" stroke-width="0.25" transform="translate(595.25,333.10) rotate(-45) scale(0.92,1)">NGC</text>
<line x1="602.46" y1="322.30" x2="602.46" y2="327.30" stroke="#1a1a1a" stroke-width="1.1" />
<text x="0" y="0" font-size="11" text-anchor="end" fill="#1a1a1a" stroke="#1a1a1a" stroke-width="0.25" transform="translate(607.68,333.10) rotate(-45) scale(0.92,1)">BDBM66692</text>
<line x1="614.32" y1="322.30" x2="614.32" y2="327.30" stroke="#1a1a1a" stroke-width="1.1" />
<text x="0" y="0" font-size="11" text-anchor="end" fill="#1a1a1a" stroke="#1a1a1a" stroke-width="0.25" transform="translate(620.11,333.10) rotate(-45) scale(0.92,1)">NSA</text>
<line x1="626.18" y1="322.30" x2="626.18" y2="327.30" stroke="#1a1a1a" stroke-width="1.1" />
<text x="0" y="0" font-size="11" text-anchor="end" fill="#1a1a1a" stroke="#1a1a1a" stroke-width="0.25" transform="translate(632.54,333.10) rotate(-45) scale(0.92,1)">STK82636</text>
<line x1="638.04" y1="322.30" x2="638.04" y2="327.30" stroke="#1a1a1a" stroke-width="1.1" />
<text x="0" y="0" font-size="11" text-anchor="end" fill="#1a1a1a" stroke="#1a1a1a" stroke-width="0.25" transform="translate(644.97,333.10) rotate(-45) scale(0.92,1)">4FBA</text>
<line x1="649.90" y1="322.30" x2="649.90" y2="327.30" stroke="#1a1a1a" stroke-width="1.1" />
<text x="0" y="0" font-size="11" text-anchor="end" fill="#1a1a1a" stroke="#1a1a1a" stroke-width="0.25" transform="translate(657.40,333.10) rotate(-45) scale(0.92,1)">ccr-11</text>
<line x1="661.76" y1="322.30" x2="661.76" y2="327.30" stroke="#1a1a1a" stroke-width="1.1" />
<text x="0" y="0" font-size="11" text-anchor="end" fill="#1a1a1a" stroke="#1a1a1a" stroke-width="0.25" transform="translate(669.83,333.10) rotate(-45) scale(0.92,1)">AC1NSHBQ</text>
<text x="0" y="0" font-size="11.6" text-anchor="middle" fill="#1a1a1a" stroke="#1a1a1a" stroke-width="0.25" textLength="155.80" lengthAdjust="spacingAndGlyphs" transform="translate(470.80,274.80) rotate(-90)">Relative ETP cleavage activity</text>
<text x="0" y="0" font-size="11.6" text-anchor="middle" fill="#1a1a1a" stroke="#1a1a1a" stroke-width="0.25" textLength="119.00" lengthAdjust="spacingAndGlyphs" transform="translate(488.60,274.80) rotate(-90)">(caMMP-16 activity, %)</text>
<rect x="112.10" y="442.20" width="536.50" height="44.10" fill="#fff" stroke="#333" stroke-width="1" />
<line x1="112.10" y1="456.90" x2="648.60" y2="456.90" stroke="#666" stroke-width="1.2" />
<line x1="112.10" y1="471.60" x2="648.60" y2="471.60" stroke="#666" stroke-width="1.2" />
<line x1="135.43" y1="442.20" x2="135.43" y2="486.30" stroke="#555" stroke-width="1" />
<line x1="158.75" y1="442.20" x2="158.75" y2="486.30" stroke="#555" stroke-width="1" />
<line x1="182.08" y1="442.20" x2="182.08" y2="486.30" stroke="#555" stroke-width="1" />
<line x1="205.40" y1="442.20" x2="205.40" y2="486.30" stroke="#555" stroke-width="1" />
<line x1="228.73" y1="442.20" x2="228.73" y2="486.30" stroke="#555" stroke-width="1" />
<line x1="252.06" y1="442.20" x2="252.06" y2="486.30" stroke="#555" stroke-width="1" />
<line x1="275.38" y1="442.20" x2="275.38" y2="486.30" stroke="#555" stroke-width="1" />
<line x1="298.71" y1="442.20" x2="298.71" y2="486.30" stroke="#555" stroke-width="1" />
<line x1="322.03" y1="442.20" x2="322.03" y2="486.30" stroke="#555" stroke-width="1" />
<line x1="345.36" y1="442.20" x2="345.36" y2="486.30" stroke="#555" stroke-width="1" />
<line x1="368.69" y1="442.20" x2="368.69" y2="486.30" stroke="#555" stroke-width="1" />
<line x1="392.01" y1="442.20" x2="392.01" y2="486.30" stroke="#555" stroke-width="1" />
<line x1="415.34" y1="442.20" x2="415.34" y2="486.30" stroke="#555" stroke-width="1" />
<line x1="438.67" y1="442.20" x2="438.67" y2="486.30" stroke="#555" stroke-width="1" />
<line x1="461.99" y1="442.20" x2="461.99" y2="486.30" stroke="#555" stroke-width="1" />
<line x1="485.32" y1="442.20" x2="485.32" y2="486.30" stroke="#555" stroke-width="1" />
<line x1="508.64" y1="442.20" x2="508.64" y2="486.30" stroke="#555" stroke-width="1" />
<line x1="531.97" y1="442.20" x2="531.97" y2="486.30" stroke="#555" stroke-width="1" />
<line x1="555.30" y1="442.20" x2="555.30" y2="486.30" stroke="#555" stroke-width="1" />
<line x1="578.62" y1="442.20" x2="578.62" y2="486.30" stroke="#555" stroke-width="1" />
<line x1="601.95" y1="442.20" x2="601.95" y2="486.30" stroke="#555" stroke-width="1" />
<line x1="625.27" y1="442.20" x2="625.27" y2="486.30" stroke="#555" stroke-width="1" />
<rect x="122.86" y="448.60" width="3.40" height="1.30" fill="#1a1a1a" stroke="none" stroke-width="1" />
<rect x="146.19" y="448.60" width="3.40" height="1.30" fill="#1a1a1a" stroke="none" stroke-width="1" />
<rect x="169.52" y="448.60" width="3.40" height="1.30" fill="#1a1a1a" stroke="none" stroke-width="1" />
<text x="193.74" y="453.15" font-size="9.5" text-anchor="middle" fill="#1a1a1a" stroke="#1a1a1a" stroke-width="0.25">0.1</text>
<text x="217.07" y="453.15" font-size="9.5" text-anchor="middle" fill="#1a1a1a" stroke="#1a1a1a" stroke-width="0.25">1</text>
<text x="240.39" y="453.15" font-size="9.5" text-anchor="middle" fill="#1a1a1a" stroke="#1a1a1a" stroke-width="0.25">0.1</text>
<text x="263.72" y="453.15" font-size="9.5" text-anchor="middle" fill="#1a1a1a" stroke="#1a1a1a" stroke-width="0.25">1</text>
<text x="287.05" y="453.15" font-size="9.5" text-anchor="middle" fill="#1a1a1a" stroke="#1a1a1a" stroke-width="0.25">0.1</text>
<text x="310.37" y="453.15" font-size="9.5" text-anchor="middle" fill="#1a1a1a" stroke="#1a1a1a" stroke-width="0.25">1</text>
<text x="333.70" y="453.15" font-size="9.5" text-anchor="middle" fill="#1a1a1a" stroke="#1a1a1a" stroke-width="0.25">0.1</text>
<text x="357.02" y="453.15" font-size="9.5" text-anchor="middle" fill="#1a1a1a" stroke="#1a1a1a" stroke-width="0.25">1</text>
<text x="380.35" y="453.15" font-size="9.5" text-anchor="middle" fill="#1a1a1a" stroke="#1a1a1a" stroke-width="0.25">0.1</text>
<text x="403.68" y="453.15" font-size="9.5" text-anchor="middle" fill="#1a1a1a" stroke="#1a1a1a" stroke-width="0.25">1</text>
<text x="427.00" y="453.15" font-size="9.5" text-anchor="middle" fill="#1a1a1a" stroke="#1a1a1a" stroke-width="0.25">0.1</text>
<text x="450.33" y="453.15" font-size="9.5" text-anchor="middle" fill="#1a1a1a" stroke="#1a1a1a" stroke-width="0.25">1</text>
<text x="473.65" y="453.15" font-size="9.5" text-anchor="middle" fill="#1a1a1a" stroke="#1a1a1a" stroke-width="0.25">0.1</text>
<text x="496.98" y="453.15" font-size="9.5" text-anchor="middle" fill="#1a1a1a" stroke="#1a1a1a" stroke-width="0.25">1</text>
<text x="520.31" y="453.15" font-size="9.5" text-anchor="middle" fill="#1a1a1a" stroke="#1a1a1a" stroke-width="0.25">0.1</text>
<text x="543.63" y="453.15" font-size="9.5" text-anchor="middle" fill="#1a1a1a" stroke="#1a1a1a" stroke-width="0.25">1</text>
<text x="566.96" y="453.15" font-size="9.5" text-anchor="middle" fill="#1a1a1a" stroke="#1a1a1a" stroke-width="0.25">0.1</text>
<text x="590.28" y="453.15" font-size="9.5" text-anchor="middle" fill="#1a1a1a" stroke="#1a1a1a" stroke-width="0.25">1</text>
<text x="613.61" y="453.15" font-size="9.5" text-anchor="middle" fill="#1a1a1a" stroke="#1a1a1a" stroke-width="0.25">0.1</text>
<text x="636.94" y="453.15" font-size="9.5" text-anchor="middle" fill="#1a1a1a" stroke="#1a1a1a" stroke-width="0.25">1</text>
<rect x="122.86" y="463.30" width="3.40" height="1.30" fill="#1a1a1a" stroke="none" stroke-width="1" />
<rect x="146.19" y="463.30" width="3.40" height="1.30" fill="#1a1a1a" stroke="none" stroke-width="1" />
<rect x="167.52" y="463.65" width="5.80" height="1.20" fill="#1a1a1a" stroke="none" stroke-width="1" />
<rect x="169.82" y="461.35" width="1.20" height="5.80" fill="#1a1a1a" stroke="none" stroke-width="1" />
<rect x="190.84" y="463.65" width="5.80" height="1.20" fill="#1a1a1a" stroke="none" stroke-width="1" />
<rect x="193.14" y="461.35" width="1.20" height="5.80" fill="#1a1a1a" stroke="none" stroke-width="1" />
<rect x="214.17" y="463.65" width="5.80" height="1.20" fill="#1a1a1a" stroke="none" stroke-width="1" />
<rect x="216.47" y="461.35" width="1.20" height="5.80" fill="#1a1a1a" stroke="none" stroke-width="1" />
<rect x="237.49" y="463.65" width="5.80" height="1.20" fill="#1a1a1a" stroke="none" stroke-width="1" />
<rect x="239.79" y="461.35" width="1.20" height="5.80" fill="#1a1a1a" stroke="none" stroke-width="1" />
<rect x="260.82" y="463.65" width="5.80" height="1.20" fill="#1a1a1a" stroke="none" stroke-width="1" />
<rect x="263.12" y="461.35" width="1.20" height="5.80" fill="#1a1a1a" stroke="none" stroke-width="1" />
<rect x="284.15" y="463.65" width="5.80" height="1.20" fill="#1a1a1a" stroke="none" stroke-width="1" />
<rect x="286.45" y="461.35" width="1.20" height="5.80" fill="#1a1a1a" stroke="none" stroke-width="1" />
<rect x="307.47" y="463.65" width="5.80" height="1.20" fill="#1a1a1a" stroke="none" stroke-width="1" />
<rect x="309.77" y="461.35" width="1.20" height="5.80" fill="#1a1a1a" stroke="none" stroke-width="1" />
<rect x="330.80" y="463.65" width="5.80" height="1.20" fill="#1a1a1a" stroke="none" stroke-width="1" />
<rect x="333.10" y="461.35" width="1.20" height="5.80" fill="#1a1a1a" stroke="none" stroke-width="1" />
<rect x="354.12" y="463.65" width="5.80" height="1.20" fill="#1a1a1a" stroke="none" stroke-width="1" />
<rect x="356.42" y="461.35" width="1.20" height="5.80" fill="#1a1a1a" stroke="none" stroke-width="1" />
<rect x="377.45" y="463.65" width="5.80" height="1.20" fill="#1a1a1a" stroke="none" stroke-width="1" />
<rect x="379.75" y="461.35" width="1.20" height="5.80" fill="#1a1a1a" stroke="none" stroke-width="1" />
<rect x="400.78" y="463.65" width="5.80" height="1.20" fill="#1a1a1a" stroke="none" stroke-width="1" />
<rect x="403.08" y="461.35" width="1.20" height="5.80" fill="#1a1a1a" stroke="none" stroke-width="1" />
<rect x="424.10" y="463.65" width="5.80" height="1.20" fill="#1a1a1a" stroke="none" stroke-width="1" />
<rect x="426.40" y="461.35" width="1.20" height="5.80" fill="#1a1a1a" stroke="none" stroke-width="1" />
<rect x="447.43" y="463.65" width="5.80" height="1.20" fill="#1a1a1a" stroke="none" stroke-width="1" />
<rect x="449.73" y="461.35" width="1.20" height="5.80" fill="#1a1a1a" stroke="none" stroke-width="1" />
<rect x="470.75" y="463.65" width="5.80" height="1.20" fill="#1a1a1a" stroke="none" stroke-width="1" />
<rect x="473.05" y="461.35" width="1.20" height="5.80" fill="#1a1a1a" stroke="none" stroke-width="1" />
<rect x="494.08" y="463.65" width="5.80" height="1.20" fill="#1a1a1a" stroke="none" stroke-width="1" />
<rect x="496.38" y="461.35" width="1.20" height="5.80" fill="#1a1a1a" stroke="none" stroke-width="1" />
<rect x="517.41" y="463.65" width="5.80" height="1.20" fill="#1a1a1a" stroke="none" stroke-width="1" />
<rect x="519.71" y="461.35" width="1.20" height="5.80" fill="#1a1a1a" stroke="none" stroke-width="1" />
<rect x="540.73" y="463.65" width="5.80" height="1.20" fill="#1a1a1a" stroke="none" stroke-width="1" />
<rect x="543.03" y="461.35" width="1.20" height="5.80" fill="#1a1a1a" stroke="none" stroke-width="1" />
<rect x="564.06" y="463.65" width="5.80" height="1.20" fill="#1a1a1a" stroke="none" stroke-width="1" />
<rect x="566.36" y="461.35" width="1.20" height="5.80" fill="#1a1a1a" stroke="none" stroke-width="1" />
<rect x="587.38" y="463.65" width="5.80" height="1.20" fill="#1a1a1a" stroke="none" stroke-width="1" />
<rect x="589.68" y="461.35" width="1.20" height="5.80" fill="#1a1a1a" stroke="none" stroke-width="1" />
<rect x="610.71" y="463.65" width="5.80" height="1.20" fill="#1a1a1a" stroke="none" stroke-width="1" />
<rect x="613.01" y="461.35" width="1.20" height="5.80" fill="#1a1a1a" stroke="none" stroke-width="1" />
<rect x="634.04" y="463.65" width="5.80" height="1.20" fill="#1a1a1a" stroke="none" stroke-width="1" />
<rect x="636.34" y="461.35" width="1.20" height="5.80" fill="#1a1a1a" stroke="none" stroke-width="1" />
<rect x="122.86" y="478.00" width="3.40" height="1.30" fill="#1a1a1a" stroke="none" stroke-width="1" />
<rect x="144.19" y="478.35" width="5.80" height="1.20" fill="#1a1a1a" stroke="none" stroke-width="1" />
<rect x="146.49" y="476.05" width="1.20" height="5.80" fill="#1a1a1a" stroke="none" stroke-width="1" />
<rect x="167.52" y="478.35" width="5.80" height="1.20" fill="#1a1a1a" stroke="none" stroke-width="1" />
<rect x="169.82" y="476.05" width="1.20" height="5.80" fill="#1a1a1a" stroke="none" stroke-width="1" />
<rect x="190.84" y="478.35" width="5.80" height="1.20" fill="#1a1a1a" stroke="none" stroke-width="1" />
<rect x="193.14" y="476.05" width="1.20" height="5.80" fill="#1a1a1a" stroke="none" stroke-width="1" />
<rect x="214.17" y="478.35" width="5.80" height="1.20" fill="#1a1a1a" stroke="none" stroke-width="1" />
<rect x="216.47" y="476.05" width="1.20" height="5.80" fill="#1a1a1a" stroke="none" stroke-width="1" />
<rect x="237.49" y="478.35" width="5.80" height="1.20" fill="#1a1a1a" stroke="none" stroke-width="1" />
<rect x="239.79" y="476.05" width="1.20" height="5.80" fill="#1a1a1a" stroke="none" stroke-width="1" />
<rect x="260.82" y="478.35" width="5.80" height="1.20" fill="#1a1a1a" stroke="none" stroke-width="1" />
<rect x="263.12" y="476.05" width="1.20" height="5.80" fill="#1a1a1a" stroke="none" stroke-width="1" />
<rect x="284.15" y="478.35" width="5.80" height="1.20" fill="#1a1a1a" stroke="none" stroke-width="1" />
<rect x="286.45" y="476.05" width="1.20" height="5.80" fill="#1a1a1a" stroke="none" stroke-width="1" />
<rect x="307.47" y="478.35" width="5.80" height="1.20" fill="#1a1a1a" stroke="none" stroke-width="1" />
<rect x="309.77" y="476.05" width="1.20" height="5.80" fill="#1a1a1a" stroke="none" stroke-width="1" />
<rect x="330.80" y="478.35" width="5.80" height="1.20" fill="#1a1a1a" stroke="none" stroke-width="1" />
<rect x="333.10" y="476.05" width="1.20" height="5.80" fill="#1a1a1a" stroke="none" stroke-width="1" />
<rect x="354.12" y="478.35" width="5.80" height="1.20" fill="#1a1a1a" stroke="none" stroke-width="1" />
<rect x="356.42" y="476.05" width="1.20" height="5.80" fill="#1a1a1a" stroke="none" stroke-width="1" />
<rect x="377.45" y="478.35" width="5.80" height="1.20" fill="#1a1a1a" stroke="none" stroke-width="1" />
<rect x="379.75" y="476.05" width="1.20" height="5.80" fill="#1a1a1a" stroke="none" stroke-width="1" />
<rect x="400.78" y="478.35" width="5.80" height="1.20" fill="#1a1a1a" stroke="none" stroke-width="1" />
<rect x="403.08" y="476.05" width="1.20" height="5.80" fill="#1a1a1a" stroke="none" stroke-width="1" />
<rect x="424.10" y="478.35" width="5.80" height="1.20" fill="#1a1a1a" stroke="none" stroke-width="1" />
<rect x="426.40" y="476.05" width="1.20" height="5.80" fill="#1a1a1a" stroke="none" stroke-width="1" />
<rect x="447.43" y="478.35" width="5.80" height="1.20" fill="#1a1a1a" stroke="none" stroke-width="1" />
<rect x="449.73" y="476.05" width="1.20" height="5.80" fill="#1a1a1a" stroke="none" stroke-width="1" />
<rect x="470.75" y="478.35" width="5.80" height="1.20" fill="#1a1a1a" stroke="none" stroke-width="1" />
<rect x="473.05" y="476.05" width="1.20" height="5.80" fill="#1a1a1a" stroke="none" stroke-width="1" />
<rect x="494.08" y="478.35" width="5.80" height="1.20" fill="#1a1a1a" stroke="none" stroke-width="1" />
<rect x="496.38" y="476.05" width="1.20" height="5.80" fill="#1a1a1a" stroke="none" stroke-width="1" />
<rect x="517.41" y="478.35" width="5.80" height="1.20" fill="#1a1a1a" stroke="none" stroke-width="1" />
<rect x="519.71" y="476.05" width="1.20" height="5.80" fill="#1a1a1a" stroke="none" stroke-width="1" />
<rect x="540.73" y="478.35" width="5.80" height="1.20" fill="#1a1a1a" stroke="none" stroke-width="1" />
<rect x="543.03" y="476.05" width="1.20" height="5.80" fill="#1a1a1a" stroke="none" stroke-width="1" />
<rect x="564.06" y="478.35" width="5.80" height="1.20" fill="#1a1a1a" stroke="none" stroke-width="1" />
<rect x="566.36" y="476.05" width="1.20" height="5.80" fill="#1a1a1a" stroke="none" stroke-width="1" />
<rect x="587.38" y="478.35" width="5.80" height="1.20" fill="#1a1a1a" stroke="none" stroke-width="1" />
<rect x="589.68" y="476.05" width="1.20" height="5.80" fill="#1a1a1a" stroke="none" stroke-width="1" />
<rect x="610.71" y="478.35" width="5.80" height="1.20" fill="#1a1a1a" stroke="none" stroke-width="1" />
<rect x="613.01" y="476.05" width="1.20" height="5.80" fill="#1a1a1a" stroke="none" stroke-width="1" />
<rect x="634.04" y="478.35" width="5.80" height="1.20" fill="#1a1a1a" stroke="none" stroke-width="1" />
<rect x="636.34" y="476.05" width="1.20" height="5.80" fill="#1a1a1a" stroke="none" stroke-width="1" />
<text x="108.70" y="452.30" font-size="11.6" text-anchor="end" fill="#1a1a1a" stroke="#1a1a1a" stroke-width="0.25">Compounds (μM)</text>
<text x="108.7" y="466.7" font-size="11.6" text-anchor="end" fill="#1a1a1a" textLength="78.5" lengthAdjust="spacingAndGlyphs">CoCl<tspan font-size="9.4">2</tspan> (150μM)</text>
<text x="108.70" y="482.30" font-size="11.6" text-anchor="end" fill="#1a1a1a" stroke="#1a1a1a" stroke-width="0.25">Insulin (25nM)</text>
<line x1="186.58" y1="437.60" x2="224.23" y2="437.60" stroke="#222" stroke-width="1.5" />
<text x="0" y="0" font-size="11.3" text-anchor="start" fill="#1a1a1a" stroke="#1a1a1a" stroke-width="0.25" transform="translate(202.38,433.00) rotate(-40)">α-MS</text>
<line x1="233.23" y1="437.60" x2="270.88" y2="437.60" stroke="#222" stroke-width="1.5" />
<text x="0" y="0" font-size="11.3" text-anchor="start" fill="#1a1a1a" stroke="#1a1a1a" stroke-width="0.25" transform="translate(249.03,433.00) rotate(-40)">BFA</text>
<line x1="279.88" y1="437.60" x2="317.53" y2="437.60" stroke="#222" stroke-width="1.5" />
<text x="0" y="0" font-size="11.3" text-anchor="start" fill="#1a1a1a" stroke="#1a1a1a" stroke-width="0.25" transform="translate(295.68,433.00) rotate(-40)">10HCT</text>
<line x1="326.53" y1="437.60" x2="364.19" y2="437.60" stroke="#222" stroke-width="1.5" />
<text x="0" y="0" font-size="11.3" text-anchor="start" fill="#d83a3a" stroke="#d83a3a" stroke-width="0.25" transform="translate(342.33,433.00) rotate(-40)">NGC</text>
<line x1="373.19" y1="437.60" x2="410.84" y2="437.60" stroke="#222" stroke-width="1.5" />
<text x="0" y="0" font-size="11.3" text-anchor="start" fill="#1a1a1a" stroke="#1a1a1a" stroke-width="0.25" transform="translate(388.99,433.00) rotate(-40)">BDBM66692</text>
<line x1="419.84" y1="437.60" x2="457.49" y2="437.60" stroke="#222" stroke-width="1.5" />
<text x="0" y="0" font-size="11.3" text-anchor="start" fill="#1a1a1a" stroke="#1a1a1a" stroke-width="0.25" transform="translate(435.64,433.00) rotate(-40)">NSA</text>
<line x1="466.49" y1="437.60" x2="504.14" y2="437.60" stroke="#222" stroke-width="1.5" />
<text x="0" y="0" font-size="11.3" text-anchor="start" fill="#1a1a1a" stroke="#1a1a1a" stroke-width="0.25" transform="translate(482.29,433.00) rotate(-40)">STK82636</text>
<line x1="513.14" y1="437.60" x2="550.80" y2="437.60" stroke="#222" stroke-width="1.5" />
<text x="0" y="0" font-size="11.3" text-anchor="start" fill="#1a1a1a" stroke="#1a1a1a" stroke-width="0.25" transform="translate(528.94,433.00) rotate(-40)">4FBA</text>
<line x1="559.80" y1="437.60" x2="597.45" y2="437.60" stroke="#222" stroke-width="1.5" />
<text x="0" y="0" font-size="11.3" text-anchor="start" fill="#1a1a1a" stroke="#1a1a1a" stroke-width="0.25" transform="translate(575.60,433.00) rotate(-40)">ccr-11</text>
<line x1="606.45" y1="437.60" x2="644.10" y2="437.60" stroke="#222" stroke-width="1.5" />
<text x="0" y="0" font-size="11.3" text-anchor="start" fill="#1a1a1a" stroke="#1a1a1a" stroke-width="0.25" transform="translate(622.25,433.00) rotate(-40)">AC1NSHBQ</text>
<defs><filter id="bl" filterUnits="userSpaceOnUse" x="100" y="480" width="560" height="90"><feGaussianBlur stdDeviation="0.9"/></filter><filter id="bl2" filterUnits="userSpaceOnUse" x="100" y="480" width="560" height="90"><feGaussianBlur stdDeviation="0.55"/></filter></defs>
<rect x="112.10" y="495.60" width="536.50" height="28.60" fill="#e0e0e0" stroke="#666" stroke-width="1" />
<rect x="112.10" y="530.40" width="536.50" height="29.80" fill="#e0e0e0" stroke="#666" stroke-width="1" />
<path d="M116.76,504.60 Q123.76,506.90 130.76,505.20" fill="none" stroke="#000" stroke-width="2.48" stroke-linecap="round" opacity="0.07" filter="url(#bl)"/>
<path d="M140.09,505.80 Q147.09,508.10 154.09,506.40" fill="none" stroke="#000" stroke-width="3.60" stroke-linecap="round" opacity="0.95" filter="url(#bl)"/>
<path d="M163.42,507.60 Q170.42,509.90 177.42,508.20" fill="none" stroke="#000" stroke-width="3.06" stroke-linecap="round" opacity="0.52" filter="url(#bl)"/>
<path d="M186.74,508.60 Q193.74,510.90 200.74,509.20" fill="none" stroke="#000" stroke-width="3.06" stroke-linecap="round" opacity="0.52" filter="url(#bl)"/>
<path d="M210.07,510.00 Q217.07,512.30 224.07,510.60" fill="none" stroke="#000" stroke-width="3.24" stroke-linecap="round" opacity="0.66" filter="url(#bl)"/>
<path d="M233.39,510.00 Q240.39,512.30 247.39,510.60" fill="none" stroke="#000" stroke-width="3.06" stroke-linecap="round" opacity="0.52" filter="url(#bl)"/>
<path d="M256.72,510.50 Q263.72,512.80 270.72,511.10" fill="none" stroke="#000" stroke-width="3.24" stroke-linecap="round" opacity="0.66" filter="url(#bl)"/>
<path d="M280.05,510.90 Q287.05,513.20 294.05,511.50" fill="none" stroke="#000" stroke-width="3.12" stroke-linecap="round" opacity="0.57" filter="url(#bl)"/>
<path d="M303.37,510.50 Q310.37,512.80 317.37,511.10" fill="none" stroke="#000" stroke-width="3.24" stroke-linecap="round" opacity="0.66" filter="url(#bl)"/>
<path d="M326.70,511.60 Q333.70,513.90 340.70,512.20" fill="none" stroke="#000" stroke-width="3.36" stroke-linecap="round" opacity="0.76" filter="url(#bl)"/>
<path d="M350.02,510.90 Q357.02,513.20 364.02,511.50" fill="none" stroke="#000" stroke-width="3.60" stroke-linecap="round" opacity="0.95" filter="url(#bl)"/>
<path d="M373.35,510.90 Q380.35,513.20 387.35,511.50" fill="none" stroke="#000" stroke-width="2.94" stroke-linecap="round" opacity="0.43" filter="url(#bl)"/>
<path d="M396.68,509.30 Q403.68,511.60 410.68,509.90" fill="none" stroke="#000" stroke-width="3.00" stroke-linecap="round" opacity="0.47" filter="url(#bl)"/>
<path d="M420.00,510.10 Q427.00,512.40 434.00,510.70" fill="none" stroke="#000" stroke-width="3.00" stroke-linecap="round" opacity="0.47" filter="url(#bl)"/>
<path d="M443.33,510.50 Q450.33,512.80 457.33,511.10" fill="none" stroke="#000" stroke-width="3.12" stroke-linecap="round" opacity="0.57" filter="url(#bl)"/>
<path d="M466.65,510.90 Q473.65,513.20 480.65,511.50" fill="none" stroke="#000" stroke-width="3.00" stroke-linecap="round" opacity="0.47" filter="url(#bl)"/>
<path d="M489.98,511.60 Q496.98,513.90 503.98,512.20" fill="none" stroke="#000" stroke-width="3.06" stroke-linecap="round" opacity="0.52" filter="url(#bl)"/>
<path d="M513.31,511.60 Q520.31,513.90 527.31,512.20" fill="none" stroke="#000" stroke-width="3.06" stroke-linecap="round" opacity="0.52" filter="url(#bl)"/>
<path d="M536.63,512.10 Q543.63,514.40 550.63,512.70" fill="none" stroke="#000" stroke-width="3.12" stroke-linecap="round" opacity="0.57" filter="url(#bl)"/>
<path d="M559.96,513.30 Q566.96,515.60 573.96,513.90" fill="none" stroke="#000" stroke-width="2.94" stroke-linecap="round" opacity="0.43" filter="url(#bl)"/>
<path d="M583.28,512.80 Q590.28,515.10 597.28,513.40" fill="none" stroke="#000" stroke-width="3.00" stroke-linecap="round" opacity="0.47" filter="url(#bl)"/>
<path d="M606.61,513.70 Q613.61,516.00 620.61,514.30" fill="none" stroke="#000" stroke-width="2.88" stroke-linecap="round" opacity="0.38" filter="url(#bl)"/>
<path d="M629.94,513.70 Q636.94,516.00 643.94,514.30" fill="none" stroke="#000" stroke-width="2.94" stroke-linecap="round" opacity="0.43" filter="url(#bl)"/>
<path d="M116.16,542.60 Q123.76,543.30 131.36,542.70" fill="none" stroke="#000" stroke-width="4.4" stroke-linecap="round" filter="url(#bl2)"/>
<path d="M139.49,542.60 Q147.09,544.50 154.69,545.10" fill="none" stroke="#000" stroke-width="4.4" stroke-linecap="round" filter="url(#bl2)"/>
<path d="M162.82,545.20 Q170.42,545.90 178.02,545.30" fill="none" stroke="#000" stroke-width="4.4" stroke-linecap="round" filter="url(#bl2)"/>
<path d="M186.14,545.20 Q193.74,545.90 201.34,545.30" fill="none" stroke="#000" stroke-width="4.4" stroke-linecap="round" filter="url(#bl2)"/>
<path d="M209.47,546.20 Q217.07,546.90 224.67,546.30" fill="none" stroke="#000" stroke-width="4.4" stroke-linecap="round" filter="url(#bl2)"/>
<path d="M232.79,544.80 Q240.39,545.50 247.99,544.90" fill="none" stroke="#000" stroke-width="4.4" stroke-linecap="round" filter="url(#bl2)"/>
<path d="M256.12,546.60 Q263.72,547.30 271.32,546.70" fill="none" stroke="#000" stroke-width="4.4" stroke-linecap="round" filter="url(#bl2)"/>
<path d="M279.45,545.70 Q287.05,546.40 294.65,545.80" fill="none" stroke="#000" stroke-width="4.4" stroke-linecap="round" filter="url(#bl2)"/>
<path d="M302.77,545.20 Q310.37,545.90 317.97,545.30" fill="none" stroke="#000" stroke-width="4.4" stroke-linecap="round" filter="url(#bl2)"/>
<path d="M326.10,546.20 Q333.70,546.90 341.30,546.30" fill="none" stroke="#000" stroke-width="4.4" stroke-linecap="round" filter="url(#bl2)"/>
<path d="M349.42,545.00 Q357.02,545.70 364.62,545.10" fill="none" stroke="#000" stroke-width="4.4" stroke-linecap="round" filter="url(#bl2)"/>
<path d="M372.75,545.20 Q380.35,545.90 387.95,545.30" fill="none" stroke="#000" stroke-width="4.4" stroke-linecap="round" filter="url(#bl2)"/>
<path d="M396.08,543.30 Q403.68,544.00 411.28,543.40" fill="none" stroke="#000" stroke-width="4.4" stroke-linecap="round" filter="url(#bl2)"/>
<path d="M419.40,543.80 Q427.00,544.50 434.60,543.90" fill="none" stroke="#000" stroke-width="4.4" stroke-linecap="round" filter="url(#bl2)"/>
<path d="M442.73,544.50 Q450.33,545.20 457.93,544.60" fill="none" stroke="#000" stroke-width="4.4" stroke-linecap="round" filter="url(#bl2)"/>
<path d="M466.05,545.20 Q473.65,545.90 481.25,545.30" fill="none" stroke="#000" stroke-width="4.4" stroke-linecap="round" filter="url(#bl2)"/>
<path d="M489.38,545.20 Q496.98,545.90 504.58,545.30" fill="none" stroke="#000" stroke-width="4.4" stroke-linecap="round" filter="url(#bl2)"/>
<path d="M512.71,545.20 Q520.31,545.90 527.91,545.30" fill="none" stroke="#000" stroke-width="4.4" stroke-linecap="round" filter="url(#bl2)"/>
<path d="M536.03,545.20 Q543.63,545.90 551.23,545.30" fill="none" stroke="#000" stroke-width="4.4" stroke-linecap="round" filter="url(#bl2)"/>
<path d="M559.36,546.20 Q566.96,546.90 574.56,546.30" fill="none" stroke="#000" stroke-width="4.4" stroke-linecap="round" filter="url(#bl2)"/>
<path d="M582.68,546.20 Q590.28,546.90 597.88,546.30" fill="none" stroke="#000" stroke-width="4.4" stroke-linecap="round" filter="url(#bl2)"/>
<path d="M606.01,546.20 Q613.61,546.90 621.21,546.30" fill="none" stroke="#000" stroke-width="4.4" stroke-linecap="round" filter="url(#bl2)"/>
<path d="M629.34,546.60 Q636.94,547.30 644.54,546.70" fill="none" stroke="#000" stroke-width="4.4" stroke-linecap="round" filter="url(#bl2)"/>
<text x="105.40" y="515.00" font-size="11.6" text-anchor="end" fill="#1a1a1a" stroke="#1a1a1a" stroke-width="0.25">pAKT</text>
<text x="105.40" y="548.60" font-size="11.6" text-anchor="end" fill="#1a1a1a" stroke="#1a1a1a" stroke-width="0.25">GAPDH</text>
<rect x="650.80" y="513.20" width="2.80" height="1.20" fill="#1a1a1a" stroke="none" stroke-width="1" />
<text x="656.30" y="517.10" font-size="9.3" text-anchor="start" fill="#1a1a1a" stroke="#1a1a1a" stroke-width="0.25">60</text>
<rect x="650.80" y="547.10" width="2.80" height="1.20" fill="#1a1a1a" stroke="none" stroke-width="1" />
<text x="656.30" y="551.00" font-size="9.3" text-anchor="start" fill="#1a1a1a" stroke="#1a1a1a" stroke-width="0.25">37</text>
<line x1="61.90" y1="610.30" x2="61.90" y2="683.30" stroke="#1a1a1a" stroke-width="1.2" />
<line x1="54.70" y1="683.30" x2="61.90" y2="683.30" stroke="#1a1a1a" stroke-width="1.1" />
<text x="52.40" y="687.30" font-size="11.2" text-anchor="end" fill="#1a1a1a" stroke="#1a1a1a" stroke-width="0.25">0</text>
<line x1="54.70" y1="665.05" x2="61.90" y2="665.05" stroke="#1a1a1a" stroke-width="1.1" />
<text x="52.40" y="669.05" font-size="11.2" text-anchor="end" fill="#1a1a1a" stroke="#1a1a1a" stroke-width="0.25">1</text>
<line x1="54.70" y1="646.80" x2="61.90" y2="646.80" stroke="#1a1a1a" stroke-width="1.1" />
<text x="52.40" y="650.80" font-size="11.2" text-anchor="end" fill="#1a1a1a" stroke="#1a1a1a" stroke-width="0.25">2</text>
<line x1="54.70" y1="628.55" x2="61.90" y2="628.55" stroke="#1a1a1a" stroke-width="1.1" />
<text x="52.40" y="632.55" font-size="11.2" text-anchor="end" fill="#1a1a1a" stroke="#1a1a1a" stroke-width="0.25">3</text>
<line x1="54.70" y1="610.30" x2="61.90" y2="610.30" stroke="#1a1a1a" stroke-width="1.1" />
<text x="52.40" y="614.30" font-size="11.2" text-anchor="end" fill="#1a1a1a" stroke="#1a1a1a" stroke-width="0.25">4</text>
<line x1="66.60" y1="682.50" x2="74.60" y2="682.50" stroke="#1a1a1a" stroke-width="1.2" />
<line x1="84.30" y1="635.85" x2="84.30" y2="631.29" stroke="#aaa" stroke-width="1" />
<line x1="82.10" y1="631.29" x2="86.50" y2="631.29" stroke="#aaa" stroke-width="1" />
<path d="M79.80,683.3 V635.85 H88.80 V683.3" fill="none" stroke="#aaa" stroke-width="1"/>
<path d="M93.50,683.3 V665.05 H102.50 V683.3" fill="none" stroke="#1a1a1a" stroke-width="1"/>
<line x1="111.70" y1="662.86" x2="111.70" y2="658.66" stroke="#ee4444" stroke-width="1" />
<line x1="109.50" y1="658.66" x2="113.90" y2="658.66" stroke="#ee4444" stroke-width="1" />
<path d="M107.20,683.3 V662.86 H116.20 V683.3" fill="none" stroke="#ee4444" stroke-width="1"/>
<line x1="125.40" y1="658.66" x2="125.40" y2="655.01" stroke="#ee4444" stroke-width="1" />
<line x1="123.20" y1="655.01" x2="127.60" y2="655.01" stroke="#ee4444" stroke-width="1" />
<path d="M120.90,683.3 V658.66 H129.90 V683.3" fill="none" stroke="#ee4444" stroke-width="1"/>
<circle cx="70.60" cy="681.47" r="1.9" fill="#000"/>
<circle cx="84.30" cy="628.55" r="1.9" fill="#000"/>
<circle cx="84.30" cy="635.85" r="1.9" fill="#000"/>
<circle cx="84.30" cy="643.15" r="1.9" fill="#000"/>
<circle cx="94.20" cy="665.05" r="1.9" fill="#000"/>
<circle cx="98.00" cy="665.05" r="1.9" fill="#000"/>
<circle cx="101.80" cy="665.05" r="1.9" fill="#000"/>
<circle cx="111.70" cy="655.01" r="1.9" fill="#000"/>
<circle cx="111.70" cy="663.22" r="1.9" fill="#000"/>
<circle cx="111.70" cy="669.61" r="1.9" fill="#000"/>
<circle cx="125.40" cy="653.19" r="1.9" fill="#000"/>
<circle cx="125.40" cy="658.66" r="1.9" fill="#000"/>
<circle cx="125.40" cy="664.14" r="1.9" fill="#000"/>
<line x1="61.90" y1="683.30" x2="135.60" y2="683.30" stroke="#1a1a1a" stroke-width="1.2" />
<line x1="70.60" y1="683.30" x2="70.60" y2="688.30" stroke="#1a1a1a" stroke-width="1.1" />
<line x1="84.30" y1="683.30" x2="84.30" y2="688.30" stroke="#1a1a1a" stroke-width="1.1" />
<line x1="98.00" y1="683.30" x2="98.00" y2="688.30" stroke="#1a1a1a" stroke-width="1.1" />
<line x1="111.70" y1="683.30" x2="111.70" y2="688.30" stroke="#1a1a1a" stroke-width="1.1" />
<line x1="125.40" y1="683.30" x2="125.40" y2="688.30" stroke="#1a1a1a" stroke-width="1.1" />
<path d="M84.30,621.59 V616.69 H98.40 V621.59" fill="none" stroke="#333" stroke-width="1"/>
<path d="M83.65,605.29 L83.65,609.29 M81.92,606.29 L85.38,608.29 M85.38,606.29 L81.92,608.29 " stroke="#222" stroke-width="1.0" fill="none"/>
<circle cx="83.65" cy="607.29" r="0.8" fill="#222"/>
<path d="M90.45,605.29 L90.45,609.29 M88.72,606.29 L92.18,608.29 M92.18,606.29 L88.72,608.29 " stroke="#222" stroke-width="1.0" fill="none"/>
<circle cx="90.45" cy="607.29" r="0.8" fill="#222"/>
<path d="M95.25,605.29 L95.25,609.29 M93.52,606.29 L96.98,608.29 M96.98,606.29 L93.52,608.29 " stroke="#222" stroke-width="1.0" fill="none"/>
<circle cx="95.25" cy="607.29" r="0.8" fill="#222"/>
<text x="0" y="0" font-size="11.6" text-anchor="middle" fill="#1a1a1a" stroke="#1a1a1a" stroke-width="0.25" textLength="77.60" lengthAdjust="spacingAndGlyphs" transform="translate(37.60,648.30) rotate(-90)">p-AKT/GAPDH</text>
<rect x="64.90" y="694.10" width="69.00" height="44.25" fill="#fff" stroke="#444" stroke-width="1" />
<line x1="64.90" y1="708.85" x2="133.90" y2="708.85" stroke="#555" stroke-width="1" />
<line x1="64.90" y1="723.60" x2="133.90" y2="723.60" stroke="#555" stroke-width="1" />
<line x1="78.70" y1="694.10" x2="78.70" y2="738.35" stroke="#555" stroke-width="1" />
<line x1="92.50" y1="694.10" x2="92.50" y2="738.35" stroke="#555" stroke-width="1" />
<line x1="106.30" y1="694.10" x2="106.30" y2="738.35" stroke="#555" stroke-width="1" />
<line x1="120.10" y1="694.10" x2="120.10" y2="738.35" stroke="#555" stroke-width="1" />
<rect x="70.20" y="700.37" width="3.20" height="1.20" fill="#1a1a1a" stroke="none" stroke-width="1" />
<rect x="84.00" y="700.37" width="3.20" height="1.20" fill="#1a1a1a" stroke="none" stroke-width="1" />
<rect x="97.80" y="700.37" width="3.20" height="1.20" fill="#1a1a1a" stroke="none" stroke-width="1" />
<text x="113.20" y="704.77" font-size="9" text-anchor="middle" fill="#1a1a1a" stroke="#1a1a1a" stroke-width="0.25" textLength="11.00" lengthAdjust="spacingAndGlyphs">0.1</text>
<text x="127.00" y="704.77" font-size="9" text-anchor="middle" fill="#1a1a1a" stroke="#1a1a1a" stroke-width="0.25">1</text>
<rect x="70.20" y="715.12" width="3.20" height="1.20" fill="#1a1a1a" stroke="none" stroke-width="1" />
<rect x="84.00" y="715.12" width="3.20" height="1.20" fill="#1a1a1a" stroke="none" stroke-width="1" />
<rect x="96.60" y="715.67" width="5.60" height="1.10" fill="#1a1a1a" stroke="none" stroke-width="1" />
<rect x="98.85" y="713.42" width="1.10" height="5.60" fill="#1a1a1a" stroke="none" stroke-width="1" />
<rect x="110.40" y="715.67" width="5.60" height="1.10" fill="#1a1a1a" stroke="none" stroke-width="1" />
<rect x="112.65" y="713.42" width="1.10" height="5.60" fill="#1a1a1a" stroke="none" stroke-width="1" />
<rect x="124.20" y="715.67" width="5.60" height="1.10" fill="#1a1a1a" stroke="none" stroke-width="1" />
<rect x="126.45" y="713.42" width="1.10" height="5.60" fill="#1a1a1a" stroke="none" stroke-width="1" />
<rect x="70.20" y="729.87" width="3.20" height="1.20" fill="#1a1a1a" stroke="none" stroke-width="1" />
<rect x="82.80" y="730.42" width="5.60" height="1.10" fill="#1a1a1a" stroke="none" stroke-width="1" />
<rect x="85.05" y="728.17" width="1.10" height="5.60" fill="#1a1a1a" stroke="none" stroke-width="1" />
<rect x="96.60" y="730.42" width="5.60" height="1.10" fill="#1a1a1a" stroke="none" stroke-width="1" />
<rect x="98.85" y="728.17" width="1.10" height="5.60" fill="#1a1a1a" stroke="none" stroke-width="1" />
<rect x="110.40" y="730.42" width="5.60" height="1.10" fill="#1a1a1a" stroke="none" stroke-width="1" />
<rect x="112.65" y="728.17" width="1.10" height="5.60" fill="#1a1a1a" stroke="none" stroke-width="1" />
<rect x="124.20" y="730.42" width="5.60" height="1.10" fill="#1a1a1a" stroke="none" stroke-width="1" />
<rect x="126.45" y="728.17" width="1.10" height="5.60" fill="#1a1a1a" stroke="none" stroke-width="1" />
<text x="60.90" y="705.10" font-size="11.6" text-anchor="end" fill="#1a1a1a" stroke="#1a1a1a" stroke-width="0.25">α-MS</text>
<text x="60.90" y="719.85" font-size="11.6" text-anchor="end" fill="#1a1a1a">CoCl<tspan font-size="9.4">2</tspan></text>
<text x="60.90" y="734.60" font-size="11.6" text-anchor="end" fill="#1a1a1a" stroke="#1a1a1a" stroke-width="0.25">Insulin</text>
<line x1="197.60" y1="610.30" x2="197.60" y2="683.30" stroke="#1a1a1a" stroke-width="1.2" />
<line x1="190.40" y1="683.30" x2="197.60" y2="683.30" stroke="#1a1a1a" stroke-width="1.1" />
<text x="188.10" y="687.30" font-size="11.2" text-anchor="end" fill="#1a1a1a" stroke="#1a1a1a" stroke-width="0.25">0</text>
<line x1="190.40" y1="665.05" x2="197.60" y2="665.05" stroke="#1a1a1a" stroke-width="1.1" />
<text x="188.10" y="669.05" font-size="11.2" text-anchor="end" fill="#1a1a1a" stroke="#1a1a1a" stroke-width="0.25">1</text>
<line x1="190.40" y1="646.80" x2="197.60" y2="646.80" stroke="#1a1a1a" stroke-width="1.1" />
<text x="188.10" y="650.80" font-size="11.2" text-anchor="end" fill="#1a1a1a" stroke="#1a1a1a" stroke-width="0.25">2</text>
<line x1="190.40" y1="628.55" x2="197.60" y2="628.55" stroke="#1a1a1a" stroke-width="1.1" />
<text x="188.10" y="632.55" font-size="11.2" text-anchor="end" fill="#1a1a1a" stroke="#1a1a1a" stroke-width="0.25">3</text>
<line x1="190.40" y1="610.30" x2="197.60" y2="610.30" stroke="#1a1a1a" stroke-width="1.1" />
<text x="188.10" y="614.30" font-size="11.2" text-anchor="end" fill="#1a1a1a" stroke="#1a1a1a" stroke-width="0.25">4</text>
<line x1="202.30" y1="682.50" x2="210.30" y2="682.50" stroke="#1a1a1a" stroke-width="1.2" />
<line x1="220.00" y1="635.85" x2="220.00" y2="631.29" stroke="#aaa" stroke-width="1" />
<line x1="217.80" y1="631.29" x2="222.20" y2="631.29" stroke="#aaa" stroke-width="1" />
<path d="M215.50,683.3 V635.85 H224.50 V683.3" fill="none" stroke="#aaa" stroke-width="1"/>
<path d="M229.20,683.3 V665.05 H238.20 V683.3" fill="none" stroke="#1a1a1a" stroke-width="1"/>
<line x1="247.40" y1="664.14" x2="247.40" y2="660.12" stroke="#ee4444" stroke-width="1" />
<line x1="245.20" y1="660.12" x2="249.60" y2="660.12" stroke="#ee4444" stroke-width="1" />
<path d="M242.90,683.3 V664.14 H251.90 V683.3" fill="none" stroke="#ee4444" stroke-width="1"/>
<line x1="261.10" y1="647.53" x2="261.10" y2="640.23" stroke="#ee4444" stroke-width="1" />
<line x1="258.90" y1="640.23" x2="263.30" y2="640.23" stroke="#ee4444" stroke-width="1" />
<path d="M256.60,683.3 V647.53 H265.60 V683.3" fill="none" stroke="#ee4444" stroke-width="1"/>
<circle cx="206.30" cy="681.47" r="1.9" fill="#000"/>
<circle cx="220.00" cy="628.55" r="1.9" fill="#000"/>
<circle cx="220.00" cy="635.85" r="1.9" fill="#000"/>
<circle cx="220.00" cy="643.15" r="1.9" fill="#000"/>
<circle cx="229.90" cy="665.05" r="1.9" fill="#000"/>
<circle cx="233.70" cy="665.05" r="1.9" fill="#000"/>
<circle cx="237.50" cy="665.05" r="1.9" fill="#000"/>
<circle cx="247.40" cy="655.92" r="1.9" fill="#000"/>
<circle cx="247.40" cy="666.51" r="1.9" fill="#000"/>
<circle cx="247.40" cy="670.16" r="1.9" fill="#000"/>
<circle cx="261.10" cy="634.94" r="1.9" fill="#000"/>
<circle cx="261.10" cy="649.54" r="1.9" fill="#000"/>
<circle cx="261.10" cy="658.30" r="1.9" fill="#000"/>
<line x1="197.60" y1="683.30" x2="271.30" y2="683.30" stroke="#1a1a1a" stroke-width="1.2" />
<line x1="206.30" y1="683.30" x2="206.30" y2="688.30" stroke="#1a1a1a" stroke-width="1.1" />
<line x1="220.00" y1="683.30" x2="220.00" y2="688.30" stroke="#1a1a1a" stroke-width="1.1" />
<line x1="233.70" y1="683.30" x2="233.70" y2="688.30" stroke="#1a1a1a" stroke-width="1.1" />
<line x1="247.40" y1="683.30" x2="247.40" y2="688.30" stroke="#1a1a1a" stroke-width="1.1" />
<line x1="261.10" y1="683.30" x2="261.10" y2="688.30" stroke="#1a1a1a" stroke-width="1.1" />
<path d="M217.50,621.59 V616.69 H232.60 V621.59" fill="none" stroke="#333" stroke-width="1"/>
<path d="M220.45,605.29 L220.45,609.29 M218.72,606.29 L222.18,608.29 M222.18,606.29 L218.72,608.29 " stroke="#222" stroke-width="1.0" fill="none"/>
<circle cx="220.45" cy="607.29" r="0.8" fill="#222"/>
<path d="M229.25,605.29 L229.25,609.29 M227.52,606.29 L230.98,608.29 M230.98,606.29 L227.52,608.29 " stroke="#222" stroke-width="1.0" fill="none"/>
<circle cx="229.25" cy="607.29" r="0.8" fill="#222"/>
<path d="M238.20,621.59 V616.69 H261.00 V621.59" fill="none" stroke="#333" stroke-width="1"/>
<path d="M249.40,605.29 L249.40,609.29 M247.67,606.29 L251.13,608.29 M251.13,606.29 L247.67,608.29 " stroke="#222" stroke-width="1.0" fill="none"/>
<circle cx="249.40" cy="607.29" r="0.8" fill="#222"/>
<text x="0" y="0" font-size="11.6" text-anchor="middle" fill="#1a1a1a" stroke="#1a1a1a" stroke-width="0.25" textLength="77.60" lengthAdjust="spacingAndGlyphs" transform="translate(173.30,648.30) rotate(-90)">p-AKT/GAPDH</text>
<rect x="200.60" y="694.10" width="69.00" height="44.25" fill="#fff" stroke="#444" stroke-width="1" />
<line x1="200.60" y1="708.85" x2="269.60" y2="708.85" stroke="#555" stroke-width="1" />
<line x1="200.60" y1="723.60" x2="269.60" y2="723.60" stroke="#555" stroke-width="1" />
<line x1="214.40" y1="694.10" x2="214.40" y2="738.35" stroke="#555" stroke-width="1" />
<line x1="228.20" y1="694.10" x2="228.20" y2="738.35" stroke="#555" stroke-width="1" />
<line x1="242.00" y1="694.10" x2="242.00" y2="738.35" stroke="#555" stroke-width="1" />
<line x1="255.80" y1="694.10" x2="255.80" y2="738.35" stroke="#555" stroke-width="1" />
<rect x="205.90" y="700.37" width="3.20" height="1.20" fill="#1a1a1a" stroke="none" stroke-width="1" />
<rect x="219.70" y="700.37" width="3.20" height="1.20" fill="#1a1a1a" stroke="none" stroke-width="1" />
<rect x="233.50" y="700.37" width="3.20" height="1.20" fill="#1a1a1a" stroke="none" stroke-width="1" />
<text x="248.90" y="704.77" font-size="9" text-anchor="middle" fill="#1a1a1a" stroke="#1a1a1a" stroke-width="0.25" textLength="11.00" lengthAdjust="spacingAndGlyphs">0.1</text>
<text x="262.70" y="704.77" font-size="9" text-anchor="middle" fill="#1a1a1a" stroke="#1a1a1a" stroke-width="0.25">1</text>
<rect x="205.90" y="715.12" width="3.20" height="1.20" fill="#1a1a1a" stroke="none" stroke-width="1" />
<rect x="219.70" y="715.12" width="3.20" height="1.20" fill="#1a1a1a" stroke="none" stroke-width="1" />
<rect x="232.30" y="715.67" width="5.60" height="1.10" fill="#1a1a1a" stroke="none" stroke-width="1" />
<rect x="234.55" y="713.42" width="1.10" height="5.60" fill="#1a1a1a" stroke="none" stroke-width="1" />
<rect x="246.10" y="715.67" width="5.60" height="1.10" fill="#1a1a1a" stroke="none" stroke-width="1" />
<rect x="248.35" y="713.42" width="1.10" height="5.60" fill="#1a1a1a" stroke="none" stroke-width="1" />
<rect x="259.90" y="715.67" width="5.60" height="1.10" fill="#1a1a1a" stroke="none" stroke-width="1" />
<rect x="262.15" y="713.42" width="1.10" height="5.60" fill="#1a1a1a" stroke="none" stroke-width="1" />
<rect x="205.90" y="729.87" width="3.20" height="1.20" fill="#1a1a1a" stroke="none" stroke-width="1" />
<rect x="218.50" y="730.42" width="5.60" height="1.10" fill="#1a1a1a" stroke="none" stroke-width="1" />
<rect x="220.75" y="728.17" width="1.10" height="5.60" fill="#1a1a1a" stroke="none" stroke-width="1" />
<rect x="232.30" y="730.42" width="5.60" height="1.10" fill="#1a1a1a" stroke="none" stroke-width="1" />
<rect x="234.55" y="728.17" width="1.10" height="5.60" fill="#1a1a1a" stroke="none" stroke-width="1" />
<rect x="246.10" y="730.42" width="5.60" height="1.10" fill="#1a1a1a" stroke="none" stroke-width="1" />
<rect x="248.35" y="728.17" width="1.10" height="5.60" fill="#1a1a1a" stroke="none" stroke-width="1" />
<rect x="259.90" y="730.42" width="5.60" height="1.10" fill="#1a1a1a" stroke="none" stroke-width="1" />
<rect x="262.15" y="728.17" width="1.10" height="5.60" fill="#1a1a1a" stroke="none" stroke-width="1" />
<text x="196.60" y="705.10" font-size="11.6" text-anchor="end" fill="#1a1a1a" stroke="#1a1a1a" stroke-width="0.25">BFA</text>
<text x="196.60" y="719.85" font-size="11.6" text-anchor="end" fill="#1a1a1a">CoCl<tspan font-size="9.4">2</tspan></text>
<text x="196.60" y="734.60" font-size="11.6" text-anchor="end" fill="#1a1a1a" stroke="#1a1a1a" stroke-width="0.25">Insulin</text>
<line x1="332.60" y1="610.30" x2="332.60" y2="683.30" stroke="#1a1a1a" stroke-width="1.2" />
<line x1="325.40" y1="683.30" x2="332.60" y2="683.30" stroke="#1a1a1a" stroke-width="1.1" />
<text x="323.10" y="687.30" font-size="11.2" text-anchor="end" fill="#1a1a1a" stroke="#1a1a1a" stroke-width="0.25">0</text>
<line x1="325.40" y1="665.05" x2="332.60" y2="665.05" stroke="#1a1a1a" stroke-width="1.1" />
<text x="323.10" y="669.05" font-size="11.2" text-anchor="end" fill="#1a1a1a" stroke="#1a1a1a" stroke-width="0.25">1</text>
<line x1="325.40" y1="646.80" x2="332.60" y2="646.80" stroke="#1a1a1a" stroke-width="1.1" />
<text x="323.10" y="650.80" font-size="11.2" text-anchor="end" fill="#1a1a1a" stroke="#1a1a1a" stroke-width="0.25">2</text>
<line x1="325.40" y1="628.55" x2="332.60" y2="628.55" stroke="#1a1a1a" stroke-width="1.1" />
<text x="323.10" y="632.55" font-size="11.2" text-anchor="end" fill="#1a1a1a" stroke="#1a1a1a" stroke-width="0.25">3</text>
<line x1="325.40" y1="610.30" x2="332.60" y2="610.30" stroke="#1a1a1a" stroke-width="1.1" />
<text x="323.10" y="614.30" font-size="11.2" text-anchor="end" fill="#1a1a1a" stroke="#1a1a1a" stroke-width="0.25">4</text>
<line x1="337.30" y1="682.50" x2="345.30" y2="682.50" stroke="#1a1a1a" stroke-width="1.2" />
<line x1="355.00" y1="635.85" x2="355.00" y2="631.29" stroke="#aaa" stroke-width="1" />
<line x1="352.80" y1="631.29" x2="357.20" y2="631.29" stroke="#aaa" stroke-width="1" />
<path d="M350.50,683.3 V635.85 H359.50 V683.3" fill="none" stroke="#aaa" stroke-width="1"/>
<path d="M364.20,683.3 V665.05 H373.20 V683.3" fill="none" stroke="#1a1a1a" stroke-width="1"/>
<line x1="382.40" y1="663.95" x2="382.40" y2="659.94" stroke="#ee4444" stroke-width="1" />
<line x1="380.20" y1="659.94" x2="384.60" y2="659.94" stroke="#ee4444" stroke-width="1" />
<path d="M377.90,683.3 V663.95 H386.90 V683.3" fill="none" stroke="#ee4444" stroke-width="1"/>
<line x1="396.10" y1="654.10" x2="396.10" y2="650.45" stroke="#ee4444" stroke-width="1" />
<line x1="393.90" y1="650.45" x2="398.30" y2="650.45" stroke="#ee4444" stroke-width="1" />
<path d="M391.60,683.3 V654.10 H400.60 V683.3" fill="none" stroke="#ee4444" stroke-width="1"/>
<circle cx="341.30" cy="681.47" r="1.9" fill="#000"/>
<circle cx="355.00" cy="628.55" r="1.9" fill="#000"/>
<circle cx="355.00" cy="635.85" r="1.9" fill="#000"/>
<circle cx="355.00" cy="643.15" r="1.9" fill="#000"/>
<circle cx="364.90" cy="665.05" r="1.9" fill="#000"/>
<circle cx="368.70" cy="665.05" r="1.9" fill="#000"/>
<circle cx="372.50" cy="665.05" r="1.9" fill="#000"/>
<circle cx="382.40" cy="657.75" r="1.9" fill="#000"/>
<circle cx="382.40" cy="664.14" r="1.9" fill="#000"/>
<circle cx="382.40" cy="669.43" r="1.9" fill="#000"/>
<circle cx="396.10" cy="647.53" r="1.9" fill="#000"/>
<circle cx="396.10" cy="654.83" r="1.9" fill="#000"/>
<circle cx="396.10" cy="660.67" r="1.9" fill="#000"/>
<line x1="332.60" y1="683.30" x2="406.30" y2="683.30" stroke="#1a1a1a" stroke-width="1.2" />
<line x1="341.30" y1="683.30" x2="341.30" y2="688.30" stroke="#1a1a1a" stroke-width="1.1" />
<line x1="355.00" y1="683.30" x2="355.00" y2="688.30" stroke="#1a1a1a" stroke-width="1.1" />
<line x1="368.70" y1="683.30" x2="368.70" y2="688.30" stroke="#1a1a1a" stroke-width="1.1" />
<line x1="382.40" y1="683.30" x2="382.40" y2="688.30" stroke="#1a1a1a" stroke-width="1.1" />
<line x1="396.10" y1="683.30" x2="396.10" y2="688.30" stroke="#1a1a1a" stroke-width="1.1" />
<path d="M355.00,621.59 V616.69 H369.10 V621.59" fill="none" stroke="#333" stroke-width="1"/>
<path d="M354.35,605.29 L354.35,609.29 M352.62,606.29 L356.08,608.29 M356.08,606.29 L352.62,608.29 " stroke="#222" stroke-width="1.0" fill="none"/>
<circle cx="354.35" cy="607.29" r="0.8" fill="#222"/>
<path d="M361.15,605.29 L361.15,609.29 M359.42,606.29 L362.88,608.29 M362.88,606.29 L359.42,608.29 " stroke="#222" stroke-width="1.0" fill="none"/>
<circle cx="361.15" cy="607.29" r="0.8" fill="#222"/>
<path d="M365.95,605.29 L365.95,609.29 M364.22,606.29 L367.68,608.29 M367.68,606.29 L364.22,608.29 " stroke="#222" stroke-width="1.0" fill="none"/>
<circle cx="365.95" cy="607.29" r="0.8" fill="#222"/>
<text x="0" y="0" font-size="11.6" text-anchor="middle" fill="#1a1a1a" stroke="#1a1a1a" stroke-width="0.25" textLength="77.60" lengthAdjust="spacingAndGlyphs" transform="translate(308.30,648.30) rotate(-90)">p-AKT/GAPDH</text>
<rect x="335.60" y="694.10" width="69.00" height="44.25" fill="#fff" stroke="#444" stroke-width="1" />
<line x1="335.60" y1="708.85" x2="404.60" y2="708.85" stroke="#555" stroke-width="1" />
<line x1="335.60" y1="723.60" x2="404.60" y2="723.60" stroke="#555" stroke-width="1" />
<line x1="349.40" y1="694.10" x2="349.40" y2="738.35" stroke="#555" stroke-width="1" />
<line x1="363.20" y1="694.10" x2="363.20" y2="738.35" stroke="#555" stroke-width="1" />
<line x1="377.00" y1="694.10" x2="377.00" y2="738.35" stroke="#555" stroke-width="1" />
<line x1="390.80" y1="694.10" x2="390.80" y2="738.35" stroke="#555" stroke-width="1" />
<rect x="340.90" y="700.37" width="3.20" height="1.20" fill="#1a1a1a" stroke="none" stroke-width="1" />
<rect x="354.70" y="700.37" width="3.20" height="1.20" fill="#1a1a1a" stroke="none" stroke-width="1" />
<rect x="368.50" y="700.37" width="3.20" height="1.20" fill="#1a1a1a" stroke="none" stroke-width="1" />
<text x="383.90" y="704.77" font-size="9" text-anchor="middle" fill="#1a1a1a" stroke="#1a1a1a" stroke-width="0.25" textLength="11.00" lengthAdjust="spacingAndGlyphs">0.1</text>
<text x="397.70" y="704.77" font-size="9" text-anchor="middle" fill="#1a1a1a" stroke="#1a1a1a" stroke-width="0.25">1</text>
<rect x="340.90" y="715.12" width="3.20" height="1.20" fill="#1a1a1a" stroke="none" stroke-width="1" />
<rect x="354.70" y="715.12" width="3.20" height="1.20" fill="#1a1a1a" stroke="none" stroke-width="1" />
<rect x="367.30" y="715.67" width="5.60" height="1.10" fill="#1a1a1a" stroke="none" stroke-width="1" />
<rect x="369.55" y="713.42" width="1.10" height="5.60" fill="#1a1a1a" stroke="none" stroke-width="1" />
<rect x="381.10" y="715.67" width="5.60" height="1.10" fill="#1a1a1a" stroke="none" stroke-width="1" />
<rect x="383.35" y="713.42" width="1.10" height="5.60" fill="#1a1a1a" stroke="none" stroke-width="1" />
<rect x="394.90" y="715.67" width="5.60" height="1.10" fill="#1a1a1a" stroke="none" stroke-width="1" />
<rect x="397.15" y="713.42" width="1.10" height="5.60" fill="#1a1a1a" stroke="none" stroke-width="1" />
<rect x="340.90" y="729.87" width="3.20" height="1.20" fill="#1a1a1a" stroke="none" stroke-width="1" />
<rect x="353.50" y="730.42" width="5.60" height="1.10" fill="#1a1a1a" stroke="none" stroke-width="1" />
<rect x="355.75" y="728.17" width="1.10" height="5.60" fill="#1a1a1a" stroke="none" stroke-width="1" />
<rect x="367.30" y="730.42" width="5.60" height="1.10" fill="#1a1a1a" stroke="none" stroke-width="1" />
<rect x="369.55" y="728.17" width="1.10" height="5.60" fill="#1a1a1a" stroke="none" stroke-width="1" />
<rect x="381.10" y="730.42" width="5.60" height="1.10" fill="#1a1a1a" stroke="none" stroke-width="1" />
<rect x="383.35" y="728.17" width="1.10" height="5.60" fill="#1a1a1a" stroke="none" stroke-width="1" />
<rect x="394.90" y="730.42" width="5.60" height="1.10" fill="#1a1a1a" stroke="none" stroke-width="1" />
<rect x="397.15" y="728.17" width="1.10" height="5.60" fill="#1a1a1a" stroke="none" stroke-width="1" />
<text x="331.60" y="705.10" font-size="11.6" text-anchor="end" fill="#1a1a1a" stroke="#1a1a1a" stroke-width="0.25">10HCT</text>
<text x="331.60" y="719.85" font-size="11.6" text-anchor="end" fill="#1a1a1a">CoCl<tspan font-size="9.4">2</tspan></text>
<text x="331.60" y="734.60" font-size="11.6" text-anchor="end" fill="#1a1a1a" stroke="#1a1a1a" stroke-width="0.25">Insulin</text>
<line x1="471.30" y1="610.30" x2="471.30" y2="683.30" stroke="#1a1a1a" stroke-width="1.2" />
<line x1="464.10" y1="683.30" x2="471.30" y2="683.30" stroke="#1a1a1a" stroke-width="1.1" />
<text x="461.80" y="687.30" font-size="11.2" text-anchor="end" fill="#1a1a1a" stroke="#1a1a1a" stroke-width="0.25">0</text>
<line x1="464.10" y1="665.05" x2="471.30" y2="665.05" stroke="#1a1a1a" stroke-width="1.1" />
<text x="461.80" y="669.05" font-size="11.2" text-anchor="end" fill="#1a1a1a" stroke="#1a1a1a" stroke-width="0.25">1</text>
<line x1="464.10" y1="646.80" x2="471.30" y2="646.80" stroke="#1a1a1a" stroke-width="1.1" />
<text x="461.80" y="650.80" font-size="11.2" text-anchor="end" fill="#1a1a1a" stroke="#1a1a1a" stroke-width="0.25">2</text>
<line x1="464.10" y1="628.55" x2="471.30" y2="628.55" stroke="#1a1a1a" stroke-width="1.1" />
<text x="461.80" y="632.55" font-size="11.2" text-anchor="end" fill="#1a1a1a" stroke="#1a1a1a" stroke-width="0.25">3</text>
<line x1="464.10" y1="610.30" x2="471.30" y2="610.30" stroke="#1a1a1a" stroke-width="1.1" />
<text x="461.80" y="614.30" font-size="11.2" text-anchor="end" fill="#1a1a1a" stroke="#1a1a1a" stroke-width="0.25">4</text>
<line x1="476.00" y1="682.50" x2="484.00" y2="682.50" stroke="#1a1a1a" stroke-width="1.2" />
<line x1="493.70" y1="635.85" x2="493.70" y2="631.29" stroke="#aaa" stroke-width="1" />
<line x1="491.50" y1="631.29" x2="495.90" y2="631.29" stroke="#aaa" stroke-width="1" />
<path d="M489.20,683.3 V635.85 H498.20 V683.3" fill="none" stroke="#aaa" stroke-width="1"/>
<path d="M502.90,683.3 V665.05 H511.90 V683.3" fill="none" stroke="#1a1a1a" stroke-width="1"/>
<line x1="521.10" y1="646.07" x2="521.10" y2="638.59" stroke="#ee4444" stroke-width="1" />
<line x1="518.90" y1="638.59" x2="523.30" y2="638.59" stroke="#ee4444" stroke-width="1" />
<path d="M516.60,683.3 V646.07 H525.60 V683.3" fill="none" stroke="#ee4444" stroke-width="1"/>
<line x1="534.80" y1="631.29" x2="534.80" y2="621.80" stroke="#ee4444" stroke-width="1" />
<line x1="532.60" y1="621.80" x2="537.00" y2="621.80" stroke="#ee4444" stroke-width="1" />
<path d="M530.30,683.3 V631.29 H539.30 V683.3" fill="none" stroke="#ee4444" stroke-width="1"/>
<circle cx="480.00" cy="681.47" r="1.9" fill="#000"/>
<circle cx="493.70" cy="628.55" r="1.9" fill="#000"/>
<circle cx="493.70" cy="635.85" r="1.9" fill="#000"/>
<circle cx="493.70" cy="643.15" r="1.9" fill="#000"/>
<circle cx="503.60" cy="665.05" r="1.9" fill="#000"/>
<circle cx="507.40" cy="665.05" r="1.9" fill="#000"/>
<circle cx="511.20" cy="665.05" r="1.9" fill="#000"/>
<circle cx="521.10" cy="633.11" r="1.9" fill="#000"/>
<circle cx="521.10" cy="647.53" r="1.9" fill="#000"/>
<circle cx="521.10" cy="656.29" r="1.9" fill="#000"/>
<circle cx="534.80" cy="619.42" r="1.9" fill="#000"/>
<circle cx="534.80" cy="624.90" r="1.9" fill="#000"/>
<circle cx="534.80" cy="649.35" r="1.9" fill="#000"/>
<line x1="471.30" y1="683.30" x2="545.00" y2="683.30" stroke="#1a1a1a" stroke-width="1.2" />
<line x1="480.00" y1="683.30" x2="480.00" y2="688.30" stroke="#1a1a1a" stroke-width="1.1" />
<line x1="493.70" y1="683.30" x2="493.70" y2="688.30" stroke="#1a1a1a" stroke-width="1.1" />
<line x1="507.40" y1="683.30" x2="507.40" y2="688.30" stroke="#1a1a1a" stroke-width="1.1" />
<line x1="521.10" y1="683.30" x2="521.10" y2="688.30" stroke="#1a1a1a" stroke-width="1.1" />
<line x1="534.80" y1="683.30" x2="534.80" y2="688.30" stroke="#1a1a1a" stroke-width="1.1" />
<path d="M491.70,611.55 V606.65 H506.50 V611.55" fill="none" stroke="#333" stroke-width="1"/>
<path d="M498.90,595.25 L498.90,599.25 M497.17,596.25 L500.63,598.25 M500.63,596.25 L497.17,598.25 " stroke="#222" stroke-width="1.0" fill="none"/>
<circle cx="498.90" cy="597.25" r="0.8" fill="#222"/>
<path d="M511.90,611.55 V606.65 H534.70 V611.55" fill="none" stroke="#333" stroke-width="1"/>
<path d="M518.70,595.25 L518.70,599.25 M516.97,596.25 L520.43,598.25 M520.43,596.25 L516.97,598.25 " stroke="#222" stroke-width="1.0" fill="none"/>
<circle cx="518.70" cy="597.25" r="0.8" fill="#222"/>
<path d="M527.50,595.25 L527.50,599.25 M525.77,596.25 L529.23,598.25 M529.23,596.25 L525.77,598.25 " stroke="#222" stroke-width="1.0" fill="none"/>
<circle cx="527.50" cy="597.25" r="0.8" fill="#222"/>
<text x="0" y="0" font-size="11.6" text-anchor="middle" fill="#1a1a1a" stroke="#1a1a1a" stroke-width="0.25" textLength="77.60" lengthAdjust="spacingAndGlyphs" transform="translate(447.00,648.30) rotate(-90)">p-AKT/GAPDH</text>
<rect x="474.30" y="694.10" width="69.00" height="44.25" fill="#fff" stroke="#444" stroke-width="1" />
<line x1="474.30" y1="708.85" x2="543.30" y2="708.85" stroke="#555" stroke-width="1" />
<line x1="474.30" y1="723.60" x2="543.30" y2="723.60" stroke="#555" stroke-width="1" />
<line x1="488.10" y1="694.10" x2="488.10" y2="738.35" stroke="#555" stroke-width="1" />
<line x1="501.90" y1="694.10" x2="501.90" y2="738.35" stroke="#555" stroke-width="1" />
<line x1="515.70" y1="694.10" x2="515.70" y2="738.35" stroke="#555" stroke-width="1" />
<line x1="529.50" y1="694.10" x2="529.50" y2="738.35" stroke="#555" stroke-width="1" />
<rect x="479.60" y="700.37" width="3.20" height="1.20" fill="#1a1a1a" stroke="none" stroke-width="1" />
<rect x="493.40" y="700.37" width="3.20" height="1.20" fill="#1a1a1a" stroke="none" stroke-width="1" />
<rect x="507.20" y="700.37" width="3.20" height="1.20" fill="#1a1a1a" stroke="none" stroke-width="1" />
<text x="522.60" y="704.77" font-size="9" text-anchor="middle" fill="#1a1a1a" stroke="#1a1a1a" stroke-width="0.25" textLength="11.00" lengthAdjust="spacingAndGlyphs">0.1</text>
<text x="536.40" y="704.77" font-size="9" text-anchor="middle" fill="#1a1a1a" stroke="#1a1a1a" stroke-width="0.25">1</text>
<rect x="479.60" y="715.12" width="3.20" height="1.20" fill="#1a1a1a" stroke="none" stroke-width="1" />
<rect x="493.40" y="715.12" width="3.20" height="1.20" fill="#1a1a1a" stroke="none" stroke-width="1" />
<rect x="506.00" y="715.67" width="5.60" height="1.10" fill="#1a1a1a" stroke="none" stroke-width="1" />
<rect x="508.25" y="713.42" width="1.10" height="5.60" fill="#1a1a1a" stroke="none" stroke-width="1" />
<rect x="519.80" y="715.67" width="5.60" height="1.10" fill="#1a1a1a" stroke="none" stroke-width="1" />
<rect x="522.05" y="713.42" width="1.10" height="5.60" fill="#1a1a1a" stroke="none" stroke-width="1" />
<rect x="533.60" y="715.67" width="5.60" height="1.10" fill="#1a1a1a" stroke="none" stroke-width="1" />
<rect x="535.85" y="713.42" width="1.10" height="5.60" fill="#1a1a1a" stroke="none" stroke-width="1" />
<rect x="479.60" y="729.87" width="3.20" height="1.20" fill="#1a1a1a" stroke="none" stroke-width="1" />
<rect x="492.20" y="730.42" width="5.60" height="1.10" fill="#1a1a1a" stroke="none" stroke-width="1" />
<rect x="494.45" y="728.17" width="1.10" height="5.60" fill="#1a1a1a" stroke="none" stroke-width="1" />
<rect x="506.00" y="730.42" width="5.60" height="1.10" fill="#1a1a1a" stroke="none" stroke-width="1" />
<rect x="508.25" y="728.17" width="1.10" height="5.60" fill="#1a1a1a" stroke="none" stroke-width="1" />
<rect x="519.80" y="730.42" width="5.60" height="1.10" fill="#1a1a1a" stroke="none" stroke-width="1" />
<rect x="522.05" y="728.17" width="1.10" height="5.60" fill="#1a1a1a" stroke="none" stroke-width="1" />
<rect x="533.60" y="730.42" width="5.60" height="1.10" fill="#1a1a1a" stroke="none" stroke-width="1" />
<rect x="535.85" y="728.17" width="1.10" height="5.60" fill="#1a1a1a" stroke="none" stroke-width="1" />
<text x="470.30" y="705.10" font-size="11.6" text-anchor="end" fill="#1a1a1a" stroke="#1a1a1a" stroke-width="0.25">NGC</text>
<text x="470.30" y="719.85" font-size="11.6" text-anchor="end" fill="#1a1a1a">CoCl<tspan font-size="9.4">2</tspan></text>
<text x="470.30" y="734.60" font-size="11.6" text-anchor="end" fill="#1a1a1a" stroke="#1a1a1a" stroke-width="0.25">Insulin</text>
<line x1="609.80" y1="610.30" x2="609.80" y2="683.30" stroke="#1a1a1a" stroke-width="1.2" />
<line x1="602.60" y1="683.30" x2="609.80" y2="683.30" stroke="#1a1a1a" stroke-width="1.1" />
<text x="600.30" y="687.30" font-size="11.2" text-anchor="end" fill="#1a1a1a" stroke="#1a1a1a" stroke-width="0.25">0</text>
<line x1="602.60" y1="665.05" x2="609.80" y2="665.05" stroke="#1a1a1a" stroke-width="1.1" />
<text x="600.30" y="669.05" font-size="11.2" text-anchor="end" fill="#1a1a1a" stroke="#1a1a1a" stroke-width="0.25">1</text>
<line x1="602.60" y1="646.80" x2="609.80" y2="646.80" stroke="#1a1a1a" stroke-width="1.1" />
<text x="600.30" y="650.80" font-size="11.2" text-anchor="end" fill="#1a1a1a" stroke="#1a1a1a" stroke-width="0.25">2</text>
<line x1="602.60" y1="628.55" x2="609.80" y2="628.55" stroke="#1a1a1a" stroke-width="1.1" />
<text x="600.30" y="632.55" font-size="11.2" text-anchor="end" fill="#1a1a1a" stroke="#1a1a1a" stroke-width="0.25">3</text>
<line x1="602.60" y1="610.30" x2="609.80" y2="610.30" stroke="#1a1a1a" stroke-width="1.1" />
<text x="600.30" y="614.30" font-size="11.2" text-anchor="end" fill="#1a1a1a" stroke="#1a1a1a" stroke-width="0.25">4</text>
<line x1="614.50" y1="682.50" x2="622.50" y2="682.50" stroke="#1a1a1a" stroke-width="1.2" />
<line x1="632.20" y1="635.85" x2="632.20" y2="631.29" stroke="#aaa" stroke-width="1" />
<line x1="630.00" y1="631.29" x2="634.40" y2="631.29" stroke="#aaa" stroke-width="1" />
<path d="M627.70,683.3 V635.85 H636.70 V683.3" fill="none" stroke="#aaa" stroke-width="1"/>
<path d="M641.40,683.3 V665.05 H650.40 V683.3" fill="none" stroke="#1a1a1a" stroke-width="1"/>
<line x1="659.60" y1="664.14" x2="659.60" y2="662.13" stroke="#ee4444" stroke-width="1" />
<line x1="657.40" y1="662.13" x2="661.80" y2="662.13" stroke="#ee4444" stroke-width="1" />
<path d="M655.10,683.3 V664.14 H664.10 V683.3" fill="none" stroke="#ee4444" stroke-width="1"/>
<line x1="673.30" y1="667.24" x2="673.30" y2="662.86" stroke="#ee4444" stroke-width="1" />
<line x1="671.10" y1="662.86" x2="675.50" y2="662.86" stroke="#ee4444" stroke-width="1" />
<path d="M668.80,683.3 V667.24 H677.80 V683.3" fill="none" stroke="#ee4444" stroke-width="1"/>
<circle cx="618.50" cy="681.47" r="1.9" fill="#000"/>
<circle cx="632.20" cy="628.55" r="1.9" fill="#000"/>
<circle cx="632.20" cy="635.85" r="1.9" fill="#000"/>
<circle cx="632.20" cy="643.15" r="1.9" fill="#000"/>
<circle cx="642.10" cy="665.05" r="1.9" fill="#000"/>
<circle cx="645.90" cy="665.05" r="1.9" fill="#000"/>
<circle cx="649.70" cy="665.05" r="1.9" fill="#000"/>
<circle cx="659.60" cy="660.12" r="1.9" fill="#000"/>
<circle cx="657.10" cy="665.05" r="1.9" fill="#000"/>
<circle cx="662.10" cy="665.05" r="1.9" fill="#000"/>
<circle cx="673.30" cy="663.59" r="1.9" fill="#000"/>
<circle cx="673.30" cy="667.24" r="1.9" fill="#000"/>
<circle cx="673.30" cy="670.16" r="1.9" fill="#000"/>
<line x1="609.80" y1="683.30" x2="683.50" y2="683.30" stroke="#1a1a1a" stroke-width="1.2" />
<line x1="618.50" y1="683.30" x2="618.50" y2="688.30" stroke="#1a1a1a" stroke-width="1.1" />
<line x1="632.20" y1="683.30" x2="632.20" y2="688.30" stroke="#1a1a1a" stroke-width="1.1" />
<line x1="645.90" y1="683.30" x2="645.90" y2="688.30" stroke="#1a1a1a" stroke-width="1.1" />
<line x1="659.60" y1="683.30" x2="659.60" y2="688.30" stroke="#1a1a1a" stroke-width="1.1" />
<line x1="673.30" y1="683.30" x2="673.30" y2="688.30" stroke="#1a1a1a" stroke-width="1.1" />
<path d="M632.20,621.59 V616.69 H646.30 V621.59" fill="none" stroke="#333" stroke-width="1"/>
<path d="M631.55,605.29 L631.55,609.29 M629.82,606.29 L633.28,608.29 M633.28,606.29 L629.82,608.29 " stroke="#222" stroke-width="1.0" fill="none"/>
<circle cx="631.55" cy="607.29" r="0.8" fill="#222"/>
<path d="M638.35,605.29 L638.35,609.29 M636.62,606.29 L640.08,608.29 M640.08,606.29 L636.62,608.29 " stroke="#222" stroke-width="1.0" fill="none"/>
<circle cx="638.35" cy="607.29" r="0.8" fill="#222"/>
<path d="M643.15,605.29 L643.15,609.29 M641.42,606.29 L644.88,608.29 M644.88,606.29 L641.42,608.29 " stroke="#222" stroke-width="1.0" fill="none"/>
<circle cx="643.15" cy="607.29" r="0.8" fill="#222"/>
<text x="0" y="0" font-size="11.6" text-anchor="middle" fill="#1a1a1a" stroke="#1a1a1a" stroke-width="0.25" textLength="77.60" lengthAdjust="spacingAndGlyphs" transform="translate(585.50,648.30) rotate(-90)">p-AKT/GAPDH</text>
<rect x="612.80" y="694.10" width="69.00" height="44.25" fill="#fff" stroke="#444" stroke-width="1" />
<line x1="612.80" y1="708.85" x2="681.80" y2="708.85" stroke="#555" stroke-width="1" />
<line x1="612.80" y1="723.60" x2="681.80" y2="723.60" stroke="#555" stroke-width="1" />
<line x1="626.60" y1="694.10" x2="626.60" y2="738.35" stroke="#555" stroke-width="1" />
<line x1="640.40" y1="694.10" x2="640.40" y2="738.35" stroke="#555" stroke-width="1" />
<line x1="654.20" y1="694.10" x2="654.20" y2="738.35" stroke="#555" stroke-width="1" />
<line x1="668.00" y1="694.10" x2="668.00" y2="738.35" stroke="#555" stroke-width="1" />
<rect x="618.10" y="700.37" width="3.20" height="1.20" fill="#1a1a1a" stroke="none" stroke-width="1" />
<rect x="631.90" y="700.37" width="3.20" height="1.20" fill="#1a1a1a" stroke="none" stroke-width="1" />
<rect x="645.70" y="700.37" width="3.20" height="1.20" fill="#1a1a1a" stroke="none" stroke-width="1" />
<text x="661.10" y="704.77" font-size="9" text-anchor="middle" fill="#1a1a1a" stroke="#1a1a1a" stroke-width="0.25" textLength="11.00" lengthAdjust="spacingAndGlyphs">0.1</text>
<text x="674.90" y="704.77" font-size="9" text-anchor="middle" fill="#1a1a1a" stroke="#1a1a1a" stroke-width="0.25">1</text>
<rect x="618.10" y="715.12" width="3.20" height="1.20" fill="#1a1a1a" stroke="none" stroke-width="1" />
<rect x="631.90" y="715.12" width="3.20" height="1.20" fill="#1a1a1a" stroke="none" stroke-width="1" />
<rect x="644.50" y="715.67" width="5.60" height="1.10" fill="#1a1a1a" stroke="none" stroke-width="1" />
<rect x="646.75" y="713.42" width="1.10" height="5.60" fill="#1a1a1a" stroke="none" stroke-width="1" />
<rect x="658.30" y="715.67" width="5.60" height="1.10" fill="#1a1a1a" stroke="none" stroke-width="1" />
<rect x="660.55" y="713.42" width="1.10" height="5.60" fill="#1a1a1a" stroke="none" stroke-width="1" />
<rect x="672.10" y="715.67" width="5.60" height="1.10" fill="#1a1a1a" stroke="none" stroke-width="1" />
<rect x="674.35" y="713.42" width="1.10" height="5.60" fill="#1a1a1a" stroke="none" stroke-width="1" />
<rect x="618.10" y="729.87" width="3.20" height="1.20" fill="#1a1a1a" stroke="none" stroke-width="1" />
<rect x="630.70" y="730.42" width="5.60" height="1.10" fill="#1a1a1a" stroke="none" stroke-width="1" />
<rect x="632.95" y="728.17" width="1.10" height="5.60" fill="#1a1a1a" stroke="none" stroke-width="1" />
<rect x="644.50" y="730.42" width="5.60" height="1.10" fill="#1a1a1a" stroke="none" stroke-width="1" />
<rect x="646.75" y="728.17" width="1.10" height="5.60" fill="#1a1a1a" stroke="none" stroke-width="1" />
<rect x="658.30" y="730.42" width="5.60" height="1.10" fill="#1a1a1a" stroke="none" stroke-width="1" />
<rect x="660.55" y="728.17" width="1.10" height="5.60" fill="#1a1a1a" stroke="none" stroke-width="1" />
<rect x="672.10" y="730.42" width="5.60" height="1.10" fill="#1a1a1a" stroke="none" stroke-width="1" />
<rect x="674.35" y="728.17" width="1.10" height="5.60" fill="#1a1a1a" stroke="none" stroke-width="1" />
<text x="610.00" y="705.10" font-size="11.6" text-anchor="end" fill="#1a1a1a" stroke="#1a1a1a" stroke-width="0.25">BDBM66692</text>
<text x="610.00" y="719.85" font-size="11.6" text-anchor="end" fill="#1a1a1a">CoCl<tspan font-size="9.4">2</tspan></text>
<text x="610.00" y="734.60" font-size="11.6" text-anchor="end" fill="#1a1a1a" stroke="#1a1a1a" stroke-width="0.25">Insulin</text>
<line x1="61.90" y1="772.90" x2="61.90" y2="845.90" stroke="#1a1a1a" stroke-width="1.2" />
<line x1="54.70" y1="845.90" x2="61.90" y2="845.90" stroke="#1a1a1a" stroke-width="1.1" />
<text x="52.40" y="849.90" font-size="11.2" text-anchor="end" fill="#1a1a1a" stroke="#1a1a1a" stroke-width="0.25">0</text>
<line x1="54.70" y1="827.65" x2="61.90" y2="827.65" stroke="#1a1a1a" stroke-width="1.1" />
<text x="52.40" y="831.65" font-size="11.2" text-anchor="end" fill="#1a1a1a" stroke="#1a1a1a" stroke-width="0.25">1</text>
<line x1="54.70" y1="809.40" x2="61.90" y2="809.40" stroke="#1a1a1a" stroke-width="1.1" />
<text x="52.40" y="813.40" font-size="11.2" text-anchor="end" fill="#1a1a1a" stroke="#1a1a1a" stroke-width="0.25">2</text>
<line x1="54.70" y1="791.15" x2="61.90" y2="791.15" stroke="#1a1a1a" stroke-width="1.1" />
<text x="52.40" y="795.15" font-size="11.2" text-anchor="end" fill="#1a1a1a" stroke="#1a1a1a" stroke-width="0.25">3</text>
<line x1="54.70" y1="772.90" x2="61.90" y2="772.90" stroke="#1a1a1a" stroke-width="1.1" />
<text x="52.40" y="776.90" font-size="11.2" text-anchor="end" fill="#1a1a1a" stroke="#1a1a1a" stroke-width="0.25">4</text>
<line x1="66.60" y1="845.10" x2="74.60" y2="845.10" stroke="#1a1a1a" stroke-width="1.2" />
<line x1="84.30" y1="798.45" x2="84.30" y2="793.89" stroke="#aaa" stroke-width="1" />
<line x1="82.10" y1="793.89" x2="86.50" y2="793.89" stroke="#aaa" stroke-width="1" />
<path d="M79.80,845.9 V798.45 H88.80 V845.9" fill="none" stroke="#aaa" stroke-width="1"/>
<path d="M93.50,845.9 V827.65 H102.50 V845.9" fill="none" stroke="#1a1a1a" stroke-width="1"/>
<line x1="111.70" y1="829.11" x2="111.70" y2="827.10" stroke="#ee4444" stroke-width="1" />
<line x1="109.50" y1="827.10" x2="113.90" y2="827.10" stroke="#ee4444" stroke-width="1" />
<path d="M107.20,845.9 V829.11 H116.20 V845.9" fill="none" stroke="#ee4444" stroke-width="1"/>
<path d="M120.90,845.9 V831.66 H129.90 V845.9" fill="none" stroke="#ee4444" stroke-width="1"/>
<circle cx="70.60" cy="844.07" r="1.9" fill="#000"/>
<circle cx="84.30" cy="791.15" r="1.9" fill="#000"/>
<circle cx="84.30" cy="798.45" r="1.9" fill="#000"/>
<circle cx="84.30" cy="805.75" r="1.9" fill="#000"/>
<circle cx="94.20" cy="827.65" r="1.9" fill="#000"/>
<circle cx="98.00" cy="827.65" r="1.9" fill="#000"/>
<circle cx="101.80" cy="827.65" r="1.9" fill="#000"/>
<circle cx="111.70" cy="825.28" r="1.9" fill="#000"/>
<circle cx="109.50" cy="831.30" r="1.9" fill="#000"/>
<circle cx="113.90" cy="831.30" r="1.9" fill="#000"/>
<circle cx="125.40" cy="829.48" r="1.9" fill="#000"/>
<circle cx="123.20" cy="832.76" r="1.9" fill="#000"/>
<circle cx="127.60" cy="831.66" r="1.9" fill="#000"/>
<line x1="61.90" y1="845.90" x2="135.60" y2="845.90" stroke="#1a1a1a" stroke-width="1.2" />
<line x1="70.60" y1="845.90" x2="70.60" y2="850.90" stroke="#1a1a1a" stroke-width="1.1" />
<line x1="84.30" y1="845.90" x2="84.30" y2="850.90" stroke="#1a1a1a" stroke-width="1.1" />
<line x1="98.00" y1="845.90" x2="98.00" y2="850.90" stroke="#1a1a1a" stroke-width="1.1" />
<line x1="111.70" y1="845.90" x2="111.70" y2="850.90" stroke="#1a1a1a" stroke-width="1.1" />
<line x1="125.40" y1="845.90" x2="125.40" y2="850.90" stroke="#1a1a1a" stroke-width="1.1" />
<path d="M84.30,784.19 V779.29 H98.40 V784.19" fill="none" stroke="#333" stroke-width="1"/>
<path d="M83.65,767.89 L83.65,771.89 M81.92,768.89 L85.38,770.89 M85.38,768.89 L81.92,770.89 " stroke="#222" stroke-width="1.0" fill="none"/>
<circle cx="83.65" cy="769.89" r="0.8" fill="#222"/>
<path d="M90.45,767.89 L90.45,771.89 M88.72,768.89 L92.18,770.89 M92.18,768.89 L88.72,770.89 " stroke="#222" stroke-width="1.0" fill="none"/>
<circle cx="90.45" cy="769.89" r="0.8" fill="#222"/>
<path d="M95.25,767.89 L95.25,771.89 M93.52,768.89 L96.98,770.89 M96.98,768.89 L93.52,770.89 " stroke="#222" stroke-width="1.0" fill="none"/>
<circle cx="95.25" cy="769.89" r="0.8" fill="#222"/>
<text x="0" y="0" font-size="11.6" text-anchor="middle" fill="#1a1a1a" stroke="#1a1a1a" stroke-width="0.25" textLength="77.60" lengthAdjust="spacingAndGlyphs" transform="translate(37.60,810.90) rotate(-90)">p-AKT/GAPDH</text>
<rect x="64.90" y="856.70" width="69.00" height="44.25" fill="#fff" stroke="#444" stroke-width="1" />
<line x1="64.90" y1="871.45" x2="133.90" y2="871.45" stroke="#555" stroke-width="1" />
<line x1="64.90" y1="886.20" x2="133.90" y2="886.20" stroke="#555" stroke-width="1" />
<line x1="78.70" y1="856.70" x2="78.70" y2="900.95" stroke="#555" stroke-width="1" />
<line x1="92.50" y1="856.70" x2="92.50" y2="900.95" stroke="#555" stroke-width="1" />
<line x1="106.30" y1="856.70" x2="106.30" y2="900.95" stroke="#555" stroke-width="1" />
<line x1="120.10" y1="856.70" x2="120.10" y2="900.95" stroke="#555" stroke-width="1" />
<rect x="70.20" y="862.97" width="3.20" height="1.20" fill="#1a1a1a" stroke="none" stroke-width="1" />
<rect x="84.00" y="862.97" width="3.20" height="1.20" fill="#1a1a1a" stroke="none" stroke-width="1" />
<rect x="97.80" y="862.97" width="3.20" height="1.20" fill="#1a1a1a" stroke="none" stroke-width="1" />
<text x="113.20" y="867.37" font-size="9" text-anchor="middle" fill="#1a1a1a" stroke="#1a1a1a" stroke-width="0.25" textLength="11.00" lengthAdjust="spacingAndGlyphs">0.1</text>
<text x="127.00" y="867.37" font-size="9" text-anchor="middle" fill="#1a1a1a" stroke="#1a1a1a" stroke-width="0.25">1</text>
<rect x="70.20" y="877.72" width="3.20" height="1.20" fill="#1a1a1a" stroke="none" stroke-width="1" />
<rect x="84.00" y="877.72" width="3.20" height="1.20" fill="#1a1a1a" stroke="none" stroke-width="1" />
<rect x="96.60" y="878.27" width="5.60" height="1.10" fill="#1a1a1a" stroke="none" stroke-width="1" />
<rect x="98.85" y="876.02" width="1.10" height="5.60" fill="#1a1a1a" stroke="none" stroke-width="1" />
<rect x="110.40" y="878.27" width="5.60" height="1.10" fill="#1a1a1a" stroke="none" stroke-width="1" />
<rect x="112.65" y="876.02" width="1.10" height="5.60" fill="#1a1a1a" stroke="none" stroke-width="1" />
<rect x="124.20" y="878.27" width="5.60" height="1.10" fill="#1a1a1a" stroke="none" stroke-width="1" />
<rect x="126.45" y="876.02" width="1.10" height="5.60" fill="#1a1a1a" stroke="none" stroke-width="1" />
<rect x="70.20" y="892.47" width="3.20" height="1.20" fill="#1a1a1a" stroke="none" stroke-width="1" />
<rect x="82.80" y="893.02" width="5.60" height="1.10" fill="#1a1a1a" stroke="none" stroke-width="1" />
<rect x="85.05" y="890.77" width="1.10" height="5.60" fill="#1a1a1a" stroke="none" stroke-width="1" />
<rect x="96.60" y="893.02" width="5.60" height="1.10" fill="#1a1a1a" stroke="none" stroke-width="1" />
<rect x="98.85" y="890.77" width="1.10" height="5.60" fill="#1a1a1a" stroke="none" stroke-width="1" />
<rect x="110.40" y="893.02" width="5.60" height="1.10" fill="#1a1a1a" stroke="none" stroke-width="1" />
<rect x="112.65" y="890.77" width="1.10" height="5.60" fill="#1a1a1a" stroke="none" stroke-width="1" />
<rect x="124.20" y="893.02" width="5.60" height="1.10" fill="#1a1a1a" stroke="none" stroke-width="1" />
<rect x="126.45" y="890.77" width="1.10" height="5.60" fill="#1a1a1a" stroke="none" stroke-width="1" />
<text x="60.90" y="867.70" font-size="11.6" text-anchor="end" fill="#1a1a1a" stroke="#1a1a1a" stroke-width="0.25">NSA</text>
<text x="60.90" y="882.45" font-size="11.6" text-anchor="end" fill="#1a1a1a">CoCl<tspan font-size="9.4">2</tspan></text>
<text x="60.90" y="897.20" font-size="11.6" text-anchor="end" fill="#1a1a1a" stroke="#1a1a1a" stroke-width="0.25">Insulin</text>
<line x1="197.60" y1="772.90" x2="197.60" y2="845.90" stroke="#1a1a1a" stroke-width="1.2" />
<line x1="190.40" y1="845.90" x2="197.60" y2="845.90" stroke="#1a1a1a" stroke-width="1.1" />
<text x="188.10" y="849.90" font-size="11.2" text-anchor="end" fill="#1a1a1a" stroke="#1a1a1a" stroke-width="0.25">0</text>
<line x1="190.40" y1="827.65" x2="197.60" y2="827.65" stroke="#1a1a1a" stroke-width="1.1" />
<text x="188.10" y="831.65" font-size="11.2" text-anchor="end" fill="#1a1a1a" stroke="#1a1a1a" stroke-width="0.25">1</text>
<line x1="190.40" y1="809.40" x2="197.60" y2="809.40" stroke="#1a1a1a" stroke-width="1.1" />
<text x="188.10" y="813.40" font-size="11.2" text-anchor="end" fill="#1a1a1a" stroke="#1a1a1a" stroke-width="0.25">2</text>
<line x1="190.40" y1="791.15" x2="197.60" y2="791.15" stroke="#1a1a1a" stroke-width="1.1" />
<text x="188.10" y="795.15" font-size="11.2" text-anchor="end" fill="#1a1a1a" stroke="#1a1a1a" stroke-width="0.25">3</text>
<line x1="190.40" y1="772.90" x2="197.60" y2="772.90" stroke="#1a1a1a" stroke-width="1.1" />
<text x="188.10" y="776.90" font-size="11.2" text-anchor="end" fill="#1a1a1a" stroke="#1a1a1a" stroke-width="0.25">4</text>
<line x1="202.30" y1="845.10" x2="210.30" y2="845.10" stroke="#1a1a1a" stroke-width="1.2" />
<line x1="220.00" y1="798.45" x2="220.00" y2="793.89" stroke="#aaa" stroke-width="1" />
<line x1="217.80" y1="793.89" x2="222.20" y2="793.89" stroke="#aaa" stroke-width="1" />
<path d="M215.50,845.9 V798.45 H224.50 V845.9" fill="none" stroke="#aaa" stroke-width="1"/>
<path d="M229.20,845.9 V827.65 H238.20 V845.9" fill="none" stroke="#1a1a1a" stroke-width="1"/>
<line x1="247.40" y1="831.85" x2="247.40" y2="829.48" stroke="#ee4444" stroke-width="1" />
<line x1="245.20" y1="829.48" x2="249.60" y2="829.48" stroke="#ee4444" stroke-width="1" />
<path d="M242.90,845.9 V831.85 H251.90 V845.9" fill="none" stroke="#ee4444" stroke-width="1"/>
<line x1="261.10" y1="828.38" x2="261.10" y2="826.37" stroke="#ee4444" stroke-width="1" />
<line x1="258.90" y1="826.37" x2="263.30" y2="826.37" stroke="#ee4444" stroke-width="1" />
<path d="M256.60,845.9 V828.38 H265.60 V845.9" fill="none" stroke="#ee4444" stroke-width="1"/>
<circle cx="206.30" cy="844.07" r="1.9" fill="#000"/>
<circle cx="220.00" cy="791.15" r="1.9" fill="#000"/>
<circle cx="220.00" cy="798.45" r="1.9" fill="#000"/>
<circle cx="220.00" cy="805.75" r="1.9" fill="#000"/>
<circle cx="229.90" cy="827.65" r="1.9" fill="#000"/>
<circle cx="233.70" cy="827.65" r="1.9" fill="#000"/>
<circle cx="237.50" cy="827.65" r="1.9" fill="#000"/>
<circle cx="247.40" cy="827.28" r="1.9" fill="#000"/>
<circle cx="247.40" cy="831.66" r="1.9" fill="#000"/>
<circle cx="247.40" cy="836.23" r="1.9" fill="#000"/>
<circle cx="261.10" cy="824.00" r="1.9" fill="#000"/>
<circle cx="258.90" cy="830.20" r="1.9" fill="#000"/>
<circle cx="263.30" cy="830.20" r="1.9" fill="#000"/>
<line x1="197.60" y1="845.90" x2="271.30" y2="845.90" stroke="#1a1a1a" stroke-width="1.2" />
<line x1="206.30" y1="845.90" x2="206.30" y2="850.90" stroke="#1a1a1a" stroke-width="1.1" />
<line x1="220.00" y1="845.90" x2="220.00" y2="850.90" stroke="#1a1a1a" stroke-width="1.1" />
<line x1="233.70" y1="845.90" x2="233.70" y2="850.90" stroke="#1a1a1a" stroke-width="1.1" />
<line x1="247.40" y1="845.90" x2="247.40" y2="850.90" stroke="#1a1a1a" stroke-width="1.1" />
<line x1="261.10" y1="845.90" x2="261.10" y2="850.90" stroke="#1a1a1a" stroke-width="1.1" />
<path d="M220.00,784.19 V779.29 H234.10 V784.19" fill="none" stroke="#333" stroke-width="1"/>
<path d="M219.35,767.89 L219.35,771.89 M217.62,768.89 L221.08,770.89 M221.08,768.89 L217.62,770.89 " stroke="#222" stroke-width="1.0" fill="none"/>
<circle cx="219.35" cy="769.89" r="0.8" fill="#222"/>
<path d="M226.15,767.89 L226.15,771.89 M224.42,768.89 L227.88,770.89 M227.88,768.89 L224.42,770.89 " stroke="#222" stroke-width="1.0" fill="none"/>
<circle cx="226.15" cy="769.89" r="0.8" fill="#222"/>
<path d="M230.95,767.89 L230.95,771.89 M229.22,768.89 L232.68,770.89 M232.68,768.89 L229.22,770.89 " stroke="#222" stroke-width="1.0" fill="none"/>
<circle cx="230.95" cy="769.89" r="0.8" fill="#222"/>
<text x="0" y="0" font-size="11.6" text-anchor="middle" fill="#1a1a1a" stroke="#1a1a1a" stroke-width="0.25" textLength="77.60" lengthAdjust="spacingAndGlyphs" transform="translate(173.30,810.90) rotate(-90)">p-AKT/GAPDH</text>
<rect x="200.60" y="856.70" width="69.00" height="44.25" fill="#fff" stroke="#444" stroke-width="1" />
<line x1="200.60" y1="871.45" x2="269.60" y2="871.45" stroke="#555" stroke-width="1" />
<line x1="200.60" y1="886.20" x2="269.60" y2="886.20" stroke="#555" stroke-width="1" />
<line x1="214.40" y1="856.70" x2="214.40" y2="900.95" stroke="#555" stroke-width="1" />
<line x1="228.20" y1="856.70" x2="228.20" y2="900.95" stroke="#555" stroke-width="1" />
<line x1="242.00" y1="856.70" x2="242.00" y2="900.95" stroke="#555" stroke-width="1" />
<line x1="255.80" y1="856.70" x2="255.80" y2="900.95" stroke="#555" stroke-width="1" />
<rect x="205.90" y="862.97" width="3.20" height="1.20" fill="#1a1a1a" stroke="none" stroke-width="1" />
<rect x="219.70" y="862.97" width="3.20" height="1.20" fill="#1a1a1a" stroke="none" stroke-width="1" />
<rect x="233.50" y="862.97" width="3.20" height="1.20" fill="#1a1a1a" stroke="none" stroke-width="1" />
<text x="248.90" y="867.37" font-size="9" text-anchor="middle" fill="#1a1a1a" stroke="#1a1a1a" stroke-width="0.25" textLength="11.00" lengthAdjust="spacingAndGlyphs">0.1</text>
<text x="262.70" y="867.37" font-size="9" text-anchor="middle" fill="#1a1a1a" stroke="#1a1a1a" stroke-width="0.25">1</text>
<rect x="205.90" y="877.72" width="3.20" height="1.20" fill="#1a1a1a" stroke="none" stroke-width="1" />
<rect x="219.70" y="877.72" width="3.20" height="1.20" fill="#1a1a1a" stroke="none" stroke-width="1" />
<rect x="232.30" y="878.27" width="5.60" height="1.10" fill="#1a1a1a" stroke="none" stroke-width="1" />
<rect x="234.55" y="876.02" width="1.10" height="5.60" fill="#1a1a1a" stroke="none" stroke-width="1" />
<rect x="246.10" y="878.27" width="5.60" height="1.10" fill="#1a1a1a" stroke="none" stroke-width="1" />
<rect x="248.35" y="876.02" width="1.10" height="5.60" fill="#1a1a1a" stroke="none" stroke-width="1" />
<rect x="259.90" y="878.27" width="5.60" height="1.10" fill="#1a1a1a" stroke="none" stroke-width="1" />
<rect x="262.15" y="876.02" width="1.10" height="5.60" fill="#1a1a1a" stroke="none" stroke-width="1" />
<rect x="205.90" y="892.47" width="3.20" height="1.20" fill="#1a1a1a" stroke="none" stroke-width="1" />
<rect x="218.50" y="893.02" width="5.60" height="1.10" fill="#1a1a1a" stroke="none" stroke-width="1" />
<rect x="220.75" y="890.77" width="1.10" height="5.60" fill="#1a1a1a" stroke="none" stroke-width="1" />
<rect x="232.30" y="893.02" width="5.60" height="1.10" fill="#1a1a1a" stroke="none" stroke-width="1" />
<rect x="234.55" y="890.77" width="1.10" height="5.60" fill="#1a1a1a" stroke="none" stroke-width="1" />
<rect x="246.10" y="893.02" width="5.60" height="1.10" fill="#1a1a1a" stroke="none" stroke-width="1" />
<rect x="248.35" y="890.77" width="1.10" height="5.60" fill="#1a1a1a" stroke="none" stroke-width="1" />
<rect x="259.90" y="893.02" width="5.60" height="1.10" fill="#1a1a1a" stroke="none" stroke-width="1" />
<rect x="262.15" y="890.77" width="1.10" height="5.60" fill="#1a1a1a" stroke="none" stroke-width="1" />
<text x="196.60" y="867.70" font-size="11.6" text-anchor="end" fill="#1a1a1a" stroke="#1a1a1a" stroke-width="0.25">SKT82636</text>
<text x="196.60" y="882.45" font-size="11.6" text-anchor="end" fill="#1a1a1a">CoCl<tspan font-size="9.4">2</tspan></text>
<text x="196.60" y="897.20" font-size="11.6" text-anchor="end" fill="#1a1a1a" stroke="#1a1a1a" stroke-width="0.25">Insulin</text>
<line x1="332.60" y1="772.90" x2="332.60" y2="845.90" stroke="#1a1a1a" stroke-width="1.2" />
<line x1="325.40" y1="845.90" x2="332.60" y2="845.90" stroke="#1a1a1a" stroke-width="1.1" />
<text x="323.10" y="849.90" font-size="11.2" text-anchor="end" fill="#1a1a1a" stroke="#1a1a1a" stroke-width="0.25">0</text>
<line x1="325.40" y1="827.65" x2="332.60" y2="827.65" stroke="#1a1a1a" stroke-width="1.1" />
<text x="323.10" y="831.65" font-size="11.2" text-anchor="end" fill="#1a1a1a" stroke="#1a1a1a" stroke-width="0.25">1</text>
<line x1="325.40" y1="809.40" x2="332.60" y2="809.40" stroke="#1a1a1a" stroke-width="1.1" />
<text x="323.10" y="813.40" font-size="11.2" text-anchor="end" fill="#1a1a1a" stroke="#1a1a1a" stroke-width="0.25">2</text>
<line x1="325.40" y1="791.15" x2="332.60" y2="791.15" stroke="#1a1a1a" stroke-width="1.1" />
<text x="323.10" y="795.15" font-size="11.2" text-anchor="end" fill="#1a1a1a" stroke="#1a1a1a" stroke-width="0.25">3</text>
<line x1="325.40" y1="772.90" x2="332.60" y2="772.90" stroke="#1a1a1a" stroke-width="1.1" />
<text x="323.10" y="776.90" font-size="11.2" text-anchor="end" fill="#1a1a1a" stroke="#1a1a1a" stroke-width="0.25">4</text>
<line x1="337.30" y1="845.10" x2="345.30" y2="845.10" stroke="#1a1a1a" stroke-width="1.2" />
<line x1="355.00" y1="798.45" x2="355.00" y2="793.89" stroke="#aaa" stroke-width="1" />
<line x1="352.80" y1="793.89" x2="357.20" y2="793.89" stroke="#aaa" stroke-width="1" />
<path d="M350.50,845.9 V798.45 H359.50 V845.9" fill="none" stroke="#aaa" stroke-width="1"/>
<path d="M364.20,845.9 V827.65 H373.20 V845.9" fill="none" stroke="#1a1a1a" stroke-width="1"/>
<line x1="382.40" y1="831.30" x2="382.40" y2="828.75" stroke="#ee4444" stroke-width="1" />
<line x1="380.20" y1="828.75" x2="384.60" y2="828.75" stroke="#ee4444" stroke-width="1" />
<path d="M377.90,845.9 V831.30 H386.90 V845.9" fill="none" stroke="#ee4444" stroke-width="1"/>
<line x1="396.10" y1="829.11" x2="396.10" y2="827.65" stroke="#ee4444" stroke-width="1" />
<line x1="393.90" y1="827.65" x2="398.30" y2="827.65" stroke="#ee4444" stroke-width="1" />
<path d="M391.60,845.9 V829.11 H400.60 V845.9" fill="none" stroke="#ee4444" stroke-width="1"/>
<circle cx="341.30" cy="844.07" r="1.9" fill="#000"/>
<circle cx="355.00" cy="791.15" r="1.9" fill="#000"/>
<circle cx="355.00" cy="798.45" r="1.9" fill="#000"/>
<circle cx="355.00" cy="805.75" r="1.9" fill="#000"/>
<circle cx="364.90" cy="827.65" r="1.9" fill="#000"/>
<circle cx="368.70" cy="827.65" r="1.9" fill="#000"/>
<circle cx="372.50" cy="827.65" r="1.9" fill="#000"/>
<circle cx="382.40" cy="827.28" r="1.9" fill="#000"/>
<circle cx="382.40" cy="831.66" r="1.9" fill="#000"/>
<circle cx="382.40" cy="833.86" r="1.9" fill="#000"/>
<circle cx="396.10" cy="825.82" r="1.9" fill="#000"/>
<circle cx="393.90" cy="831.66" r="1.9" fill="#000"/>
<circle cx="398.30" cy="830.20" r="1.9" fill="#000"/>
<line x1="332.60" y1="845.90" x2="406.30" y2="845.90" stroke="#1a1a1a" stroke-width="1.2" />
<line x1="341.30" y1="845.90" x2="341.30" y2="850.90" stroke="#1a1a1a" stroke-width="1.1" />
<line x1="355.00" y1="845.90" x2="355.00" y2="850.90" stroke="#1a1a1a" stroke-width="1.1" />
<line x1="368.70" y1="845.90" x2="368.70" y2="850.90" stroke="#1a1a1a" stroke-width="1.1" />
<line x1="382.40" y1="845.90" x2="382.40" y2="850.90" stroke="#1a1a1a" stroke-width="1.1" />
<line x1="396.10" y1="845.90" x2="396.10" y2="850.90" stroke="#1a1a1a" stroke-width="1.1" />
<path d="M355.00,784.19 V779.29 H369.10 V784.19" fill="none" stroke="#333" stroke-width="1"/>
<path d="M354.35,767.89 L354.35,771.89 M352.62,768.89 L356.08,770.89 M356.08,768.89 L352.62,770.89 " stroke="#222" stroke-width="1.0" fill="none"/>
<circle cx="354.35" cy="769.89" r="0.8" fill="#222"/>
<path d="M361.15,767.89 L361.15,771.89 M359.42,768.89 L362.88,770.89 M362.88,768.89 L359.42,770.89 " stroke="#222" stroke-width="1.0" fill="none"/>
<circle cx="361.15" cy="769.89" r="0.8" fill="#222"/>
<path d="M365.95,767.89 L365.95,771.89 M364.22,768.89 L367.68,770.89 M367.68,768.89 L364.22,770.89 " stroke="#222" stroke-width="1.0" fill="none"/>
<circle cx="365.95" cy="769.89" r="0.8" fill="#222"/>
<text x="0" y="0" font-size="11.6" text-anchor="middle" fill="#1a1a1a" stroke="#1a1a1a" stroke-width="0.25" textLength="77.60" lengthAdjust="spacingAndGlyphs" transform="translate(308.30,810.90) rotate(-90)">p-AKT/GAPDH</text>
<rect x="335.60" y="856.70" width="69.00" height="44.25" fill="#fff" stroke="#444" stroke-width="1" />
<line x1="335.60" y1="871.45" x2="404.60" y2="871.45" stroke="#555" stroke-width="1" />
<line x1="335.60" y1="886.20" x2="404.60" y2="886.20" stroke="#555" stroke-width="1" />
<line x1="349.40" y1="856.70" x2="349.40" y2="900.95" stroke="#555" stroke-width="1" />
<line x1="363.20" y1="856.70" x2="363.20" y2="900.95" stroke="#555" stroke-width="1" />
<line x1="377.00" y1="856.70" x2="377.00" y2="900.95" stroke="#555" stroke-width="1" />
<line x1="390.80" y1="856.70" x2="390.80" y2="900.95" stroke="#555" stroke-width="1" />
<rect x="340.90" y="862.97" width="3.20" height="1.20" fill="#1a1a1a" stroke="none" stroke-width="1" />
<rect x="354.70" y="862.97" width="3.20" height="1.20" fill="#1a1a1a" stroke="none" stroke-width="1" />
<rect x="368.50" y="862.97" width="3.20" height="1.20" fill="#1a1a1a" stroke="none" stroke-width="1" />
<text x="383.90" y="867.37" font-size="9" text-anchor="middle" fill="#1a1a1a" stroke="#1a1a1a" stroke-width="0.25" textLength="11.00" lengthAdjust="spacingAndGlyphs">0.1</text>
<text x="397.70" y="867.37" font-size="9" text-anchor="middle" fill="#1a1a1a" stroke="#1a1a1a" stroke-width="0.25">1</text>
<rect x="340.90" y="877.72" width="3.20" height="1.20" fill="#1a1a1a" stroke="none" stroke-width="1" />
<rect x="354.70" y="877.72" width="3.20" height="1.20" fill="#1a1a1a" stroke="none" stroke-width="1" />
<rect x="367.30" y="878.27" width="5.60" height="1.10" fill="#1a1a1a" stroke="none" stroke-width="1" />
<rect x="369.55" y="876.02" width="1.10" height="5.60" fill="#1a1a1a" stroke="none" stroke-width="1" />
<rect x="381.10" y="878.27" width="5.60" height="1.10" fill="#1a1a1a" stroke="none" stroke-width="1" />
<rect x="383.35" y="876.02" width="1.10" height="5.60" fill="#1a1a1a" stroke="none" stroke-width="1" />
<rect x="394.90" y="878.27" width="5.60" height="1.10" fill="#1a1a1a" stroke="none" stroke-width="1" />
<rect x="397.15" y="876.02" width="1.10" height="5.60" fill="#1a1a1a" stroke="none" stroke-width="1" />
<rect x="340.90" y="892.47" width="3.20" height="1.20" fill="#1a1a1a" stroke="none" stroke-width="1" />
<rect x="353.50" y="893.02" width="5.60" height="1.10" fill="#1a1a1a" stroke="none" stroke-width="1" />
<rect x="355.75" y="890.77" width="1.10" height="5.60" fill="#1a1a1a" stroke="none" stroke-width="1" />
<rect x="367.30" y="893.02" width="5.60" height="1.10" fill="#1a1a1a" stroke="none" stroke-width="1" />
<rect x="369.55" y="890.77" width="1.10" height="5.60" fill="#1a1a1a" stroke="none" stroke-width="1" />
<rect x="381.10" y="893.02" width="5.60" height="1.10" fill="#1a1a1a" stroke="none" stroke-width="1" />
<rect x="383.35" y="890.77" width="1.10" height="5.60" fill="#1a1a1a" stroke="none" stroke-width="1" />
<rect x="394.90" y="893.02" width="5.60" height="1.10" fill="#1a1a1a" stroke="none" stroke-width="1" />
<rect x="397.15" y="890.77" width="1.10" height="5.60" fill="#1a1a1a" stroke="none" stroke-width="1" />
<text x="331.60" y="867.70" font-size="11.6" text-anchor="end" fill="#1a1a1a" stroke="#1a1a1a" stroke-width="0.25">4FBA</text>
<text x="331.60" y="882.45" font-size="11.6" text-anchor="end" fill="#1a1a1a">CoCl<tspan font-size="9.4">2</tspan></text>
<text x="331.60" y="897.20" font-size="11.6" text-anchor="end" fill="#1a1a1a" stroke="#1a1a1a" stroke-width="0.25">Insulin</text>
<line x1="471.30" y1="772.90" x2="471.30" y2="845.90" stroke="#1a1a1a" stroke-width="1.2" />
<line x1="464.10" y1="845.90" x2="471.30" y2="845.90" stroke="#1a1a1a" stroke-width="1.1" />
<text x="461.80" y="849.90" font-size="11.2" text-anchor="end" fill="#1a1a1a" stroke="#1a1a1a" stroke-width="0.25">0</text>
<line x1="464.10" y1="827.65" x2="471.30" y2="827.65" stroke="#1a1a1a" stroke-width="1.1" />
<text x="461.80" y="831.65" font-size="11.2" text-anchor="end" fill="#1a1a1a" stroke="#1a1a1a" stroke-width="0.25">1</text>
<line x1="464.10" y1="809.40" x2="471.30" y2="809.40" stroke="#1a1a1a" stroke-width="1.1" />
<text x="461.80" y="813.40" font-size="11.2" text-anchor="end" fill="#1a1a1a" stroke="#1a1a1a" stroke-width="0.25">2</text>
<line x1="464.10" y1="791.15" x2="471.30" y2="791.15" stroke="#1a1a1a" stroke-width="1.1" />
<text x="461.80" y="795.15" font-size="11.2" text-anchor="end" fill="#1a1a1a" stroke="#1a1a1a" stroke-width="0.25">3</text>
<line x1="464.10" y1="772.90" x2="471.30" y2="772.90" stroke="#1a1a1a" stroke-width="1.1" />
<text x="461.80" y="776.90" font-size="11.2" text-anchor="end" fill="#1a1a1a" stroke="#1a1a1a" stroke-width="0.25">4</text>
<line x1="476.00" y1="845.10" x2="484.00" y2="845.10" stroke="#1a1a1a" stroke-width="1.2" />
<line x1="493.70" y1="798.45" x2="493.70" y2="793.89" stroke="#aaa" stroke-width="1" />
<line x1="491.50" y1="793.89" x2="495.90" y2="793.89" stroke="#aaa" stroke-width="1" />
<path d="M489.20,845.9 V798.45 H498.20 V845.9" fill="none" stroke="#aaa" stroke-width="1"/>
<path d="M502.90,845.9 V827.65 H511.90 V845.9" fill="none" stroke="#1a1a1a" stroke-width="1"/>
<path d="M516.60,845.9 V833.12 H525.60 V845.9" fill="none" stroke="#ee4444" stroke-width="1"/>
<path d="M530.30,845.9 V831.85 H539.30 V845.9" fill="none" stroke="#ee4444" stroke-width="1"/>
<circle cx="480.00" cy="844.07" r="1.9" fill="#000"/>
<circle cx="493.70" cy="791.15" r="1.9" fill="#000"/>
<circle cx="493.70" cy="798.45" r="1.9" fill="#000"/>
<circle cx="493.70" cy="805.75" r="1.9" fill="#000"/>
<circle cx="503.60" cy="827.65" r="1.9" fill="#000"/>
<circle cx="507.40" cy="827.65" r="1.9" fill="#000"/>
<circle cx="511.20" cy="827.65" r="1.9" fill="#000"/>
<circle cx="518.90" cy="831.66" r="1.9" fill="#000"/>
<circle cx="523.30" cy="831.66" r="1.9" fill="#000"/>
<circle cx="521.10" cy="835.31" r="1.9" fill="#000"/>
<circle cx="531.80" cy="831.85" r="1.9" fill="#000"/>
<circle cx="534.80" cy="831.30" r="1.9" fill="#000"/>
<circle cx="537.80" cy="831.66" r="1.9" fill="#000"/>
<line x1="471.30" y1="845.90" x2="545.00" y2="845.90" stroke="#1a1a1a" stroke-width="1.2" />
<line x1="480.00" y1="845.90" x2="480.00" y2="850.90" stroke="#1a1a1a" stroke-width="1.1" />
<line x1="493.70" y1="845.90" x2="493.70" y2="850.90" stroke="#1a1a1a" stroke-width="1.1" />
<line x1="507.40" y1="845.90" x2="507.40" y2="850.90" stroke="#1a1a1a" stroke-width="1.1" />
<line x1="521.10" y1="845.90" x2="521.10" y2="850.90" stroke="#1a1a1a" stroke-width="1.1" />
<line x1="534.80" y1="845.90" x2="534.80" y2="850.90" stroke="#1a1a1a" stroke-width="1.1" />
<path d="M493.70,784.19 V779.29 H507.80 V784.19" fill="none" stroke="#333" stroke-width="1"/>
<path d="M493.05,767.89 L493.05,771.89 M491.32,768.89 L494.78,770.89 M494.78,768.89 L491.32,770.89 " stroke="#222" stroke-width="1.0" fill="none"/>
<circle cx="493.05" cy="769.89" r="0.8" fill="#222"/>
<path d="M499.85,767.89 L499.85,771.89 M498.12,768.89 L501.58,770.89 M501.58,768.89 L498.12,770.89 " stroke="#222" stroke-width="1.0" fill="none"/>
<circle cx="499.85" cy="769.89" r="0.8" fill="#222"/>
<path d="M504.65,767.89 L504.65,771.89 M502.92,768.89 L506.38,770.89 M506.38,768.89 L502.92,770.89 " stroke="#222" stroke-width="1.0" fill="none"/>
<circle cx="504.65" cy="769.89" r="0.8" fill="#222"/>
<text x="0" y="0" font-size="11.6" text-anchor="middle" fill="#1a1a1a" stroke="#1a1a1a" stroke-width="0.25" textLength="77.60" lengthAdjust="spacingAndGlyphs" transform="translate(447.00,810.90) rotate(-90)">p-AKT/GAPDH</text>
<rect x="474.30" y="856.70" width="69.00" height="44.25" fill="#fff" stroke="#444" stroke-width="1" />
<line x1="474.30" y1="871.45" x2="543.30" y2="871.45" stroke="#555" stroke-width="1" />
<line x1="474.30" y1="886.20" x2="543.30" y2="886.20" stroke="#555" stroke-width="1" />
<line x1="488.10" y1="856.70" x2="488.10" y2="900.95" stroke="#555" stroke-width="1" />
<line x1="501.90" y1="856.70" x2="501.90" y2="900.95" stroke="#555" stroke-width="1" />
<line x1="515.70" y1="856.70" x2="515.70" y2="900.95" stroke="#555" stroke-width="1" />
<line x1="529.50" y1="856.70" x2="529.50" y2="900.95" stroke="#555" stroke-width="1" />
<rect x="479.60" y="862.97" width="3.20" height="1.20" fill="#1a1a1a" stroke="none" stroke-width="1" />
<rect x="493.40" y="862.97" width="3.20" height="1.20" fill="#1a1a1a" stroke="none" stroke-width="1" />
<rect x="507.20" y="862.97" width="3.20" height="1.20" fill="#1a1a1a" stroke="none" stroke-width="1" />
<text x="522.60" y="867.37" font-size="9" text-anchor="middle" fill="#1a1a1a" stroke="#1a1a1a" stroke-width="0.25" textLength="11.00" lengthAdjust="spacingAndGlyphs">0.1</text>
<text x="536.40" y="867.37" font-size="9" text-anchor="middle" fill="#1a1a1a" stroke="#1a1a1a" stroke-width="0.25">1</text>
<rect x="479.60" y="877.72" width="3.20" height="1.20" fill="#1a1a1a" stroke="none" stroke-width="1" />
<rect x="493.40" y="877.72" width="3.20" height="1.20" fill="#1a1a1a" stroke="none" stroke-width="1" />
<rect x="506.00" y="878.27" width="5.60" height="1.10" fill="#1a1a1a" stroke="none" stroke-width="1" />
<rect x="508.25" y="876.02" width="1.10" height="5.60" fill="#1a1a1a" stroke="none" stroke-width="1" />
<rect x="519.80" y="878.27" width="5.60" height="1.10" fill="#1a1a1a" stroke="none" stroke-width="1" />
<rect x="522.05" y="876.02" width="1.10" height="5.60" fill="#1a1a1a" stroke="none" stroke-width="1" />
<rect x="533.60" y="878.27" width="5.60" height="1.10" fill="#1a1a1a" stroke="none" stroke-width="1" />
<rect x="535.85" y="876.02" width="1.10" height="5.60" fill="#1a1a1a" stroke="none" stroke-width="1" />
<rect x="479.60" y="892.47" width="3.20" height="1.20" fill="#1a1a1a" stroke="none" stroke-width="1" />
<rect x="492.20" y="893.02" width="5.60" height="1.10" fill="#1a1a1a" stroke="none" stroke-width="1" />
<rect x="494.45" y="890.77" width="1.10" height="5.60" fill="#1a1a1a" stroke="none" stroke-width="1" />
<rect x="506.00" y="893.02" width="5.60" height="1.10" fill="#1a1a1a" stroke="none" stroke-width="1" />
<rect x="508.25" y="890.77" width="1.10" height="5.60" fill="#1a1a1a" stroke="none" stroke-width="1" />
<rect x="519.80" y="893.02" width="5.60" height="1.10" fill="#1a1a1a" stroke="none" stroke-width="1" />
<rect x="522.05" y="890.77" width="1.10" height="5.60" fill="#1a1a1a" stroke="none" stroke-width="1" />
<rect x="533.60" y="893.02" width="5.60" height="1.10" fill="#1a1a1a" stroke="none" stroke-width="1" />
<rect x="535.85" y="890.77" width="1.10" height="5.60" fill="#1a1a1a" stroke="none" stroke-width="1" />
<text x="470.30" y="867.70" font-size="11.6" text-anchor="end" fill="#1a1a1a" stroke="#1a1a1a" stroke-width="0.25">CCR-11</text>
<text x="470.30" y="882.45" font-size="11.6" text-anchor="end" fill="#1a1a1a">CoCl<tspan font-size="9.4">2</tspan></text>
<text x="470.30" y="897.20" font-size="11.6" text-anchor="end" fill="#1a1a1a" stroke="#1a1a1a" stroke-width="0.25">Insulin</text>
<line x1="609.80" y1="772.90" x2="609.80" y2="845.90" stroke="#1a1a1a" stroke-width="1.2" />
<line x1="602.60" y1="845.90" x2="609.80" y2="845.90" stroke="#1a1a1a" stroke-width="1.1" />
<text x="600.30" y="849.90" font-size="11.2" text-anchor="end" fill="#1a1a1a" stroke="#1a1a1a" stroke-width="0.25">0</text>
<line x1="602.60" y1="827.65" x2="609.80" y2="827.65" stroke="#1a1a1a" stroke-width="1.1" />
<text x="600.30" y="831.65" font-size="11.2" text-anchor="end" fill="#1a1a1a" stroke="#1a1a1a" stroke-width="0.25">1</text>
<line x1="602.60" y1="809.40" x2="609.80" y2="809.40" stroke="#1a1a1a" stroke-width="1.1" />
<text x="600.30" y="813.40" font-size="11.2" text-anchor="end" fill="#1a1a1a" stroke="#1a1a1a" stroke-width="0.25">2</text>
<line x1="602.60" y1="791.15" x2="609.80" y2="791.15" stroke="#1a1a1a" stroke-width="1.1" />
<text x="600.30" y="795.15" font-size="11.2" text-anchor="end" fill="#1a1a1a" stroke="#1a1a1a" stroke-width="0.25">3</text>
<line x1="602.60" y1="772.90" x2="609.80" y2="772.90" stroke="#1a1a1a" stroke-width="1.1" />
<text x="600.30" y="776.90" font-size="11.2" text-anchor="end" fill="#1a1a1a" stroke="#1a1a1a" stroke-width="0.25">4</text>
<line x1="614.50" y1="845.10" x2="622.50" y2="845.10" stroke="#1a1a1a" stroke-width="1.2" />
<line x1="632.20" y1="798.45" x2="632.20" y2="793.89" stroke="#aaa" stroke-width="1" />
<line x1="630.00" y1="793.89" x2="634.40" y2="793.89" stroke="#aaa" stroke-width="1" />
<path d="M627.70,845.9 V798.45 H636.70 V845.9" fill="none" stroke="#aaa" stroke-width="1"/>
<path d="M641.40,845.9 V827.65 H650.40 V845.9" fill="none" stroke="#1a1a1a" stroke-width="1"/>
<line x1="659.60" y1="831.30" x2="659.60" y2="827.65" stroke="#ee4444" stroke-width="1" />
<line x1="657.40" y1="827.65" x2="661.80" y2="827.65" stroke="#ee4444" stroke-width="1" />
<path d="M655.10,845.9 V831.30 H664.10 V845.9" fill="none" stroke="#ee4444" stroke-width="1"/>
<line x1="673.30" y1="832.21" x2="673.30" y2="829.48" stroke="#ee4444" stroke-width="1" />
<line x1="671.10" y1="829.48" x2="675.50" y2="829.48" stroke="#ee4444" stroke-width="1" />
<path d="M668.80,845.9 V832.21 H677.80 V845.9" fill="none" stroke="#ee4444" stroke-width="1"/>
<circle cx="618.50" cy="844.07" r="1.9" fill="#000"/>
<circle cx="632.20" cy="791.15" r="1.9" fill="#000"/>
<circle cx="632.20" cy="798.45" r="1.9" fill="#000"/>
<circle cx="632.20" cy="805.75" r="1.9" fill="#000"/>
<circle cx="642.10" cy="827.65" r="1.9" fill="#000"/>
<circle cx="645.90" cy="827.65" r="1.9" fill="#000"/>
<circle cx="649.70" cy="827.65" r="1.9" fill="#000"/>
<circle cx="659.60" cy="824.91" r="1.9" fill="#000"/>
<circle cx="659.60" cy="831.66" r="1.9" fill="#000"/>
<circle cx="659.60" cy="836.04" r="1.9" fill="#000"/>
<circle cx="673.30" cy="826.37" r="1.9" fill="#000"/>
<circle cx="671.10" cy="836.04" r="1.9" fill="#000"/>
<circle cx="675.50" cy="834.22" r="1.9" fill="#000"/>
<line x1="609.80" y1="845.90" x2="683.50" y2="845.90" stroke="#1a1a1a" stroke-width="1.2" />
<line x1="618.50" y1="845.90" x2="618.50" y2="850.90" stroke="#1a1a1a" stroke-width="1.1" />
<line x1="632.20" y1="845.90" x2="632.20" y2="850.90" stroke="#1a1a1a" stroke-width="1.1" />
<line x1="645.90" y1="845.90" x2="645.90" y2="850.90" stroke="#1a1a1a" stroke-width="1.1" />
<line x1="659.60" y1="845.90" x2="659.60" y2="850.90" stroke="#1a1a1a" stroke-width="1.1" />
<line x1="673.30" y1="845.90" x2="673.30" y2="850.90" stroke="#1a1a1a" stroke-width="1.1" />
<path d="M632.20,784.19 V779.29 H646.30 V784.19" fill="none" stroke="#333" stroke-width="1"/>
<path d="M631.55,767.89 L631.55,771.89 M629.82,768.89 L633.28,770.89 M633.28,768.89 L629.82,770.89 " stroke="#222" stroke-width="1.0" fill="none"/>
<circle cx="631.55" cy="769.89" r="0.8" fill="#222"/>
<path d="M638.35,767.89 L638.35,771.89 M636.62,768.89 L640.08,770.89 M640.08,768.89 L636.62,770.89 " stroke="#222" stroke-width="1.0" fill="none"/>
<circle cx="638.35" cy="769.89" r="0.8" fill="#222"/>
<path d="M643.15,767.89 L643.15,771.89 M641.42,768.89 L644.88,770.89 M644.88,768.89 L641.42,770.89 " stroke="#222" stroke-width="1.0" fill="none"/>
<circle cx="643.15" cy="769.89" r="0.8" fill="#222"/>
<text x="0" y="0" font-size="11.6" text-anchor="middle" fill="#1a1a1a" stroke="#1a1a1a" stroke-width="0.25" textLength="77.60" lengthAdjust="spacingAndGlyphs" transform="translate(585.50,810.90) rotate(-90)">p-AKT/GAPDH</text>
<rect x="612.80" y="856.70" width="69.00" height="44.25" fill="#fff" stroke="#444" stroke-width="1" />
<line x1="612.80" y1="871.45" x2="681.80" y2="871.45" stroke="#555" stroke-width="1" />
<line x1="612.80" y1="886.20" x2="681.80" y2="886.20" stroke="#555" stroke-width="1" />
<line x1="626.60" y1="856.70" x2="626.60" y2="900.95" stroke="#555" stroke-width="1" />
<line x1="640.40" y1="856.70" x2="640.40" y2="900.95" stroke="#555" stroke-width="1" />
<line x1="654.20" y1="856.70" x2="654.20" y2="900.95" stroke="#555" stroke-width="1" />
<line x1="668.00" y1="856.70" x2="668.00" y2="900.95" stroke="#555" stroke-width="1" />
<rect x="618.10" y="862.97" width="3.20" height="1.20" fill="#1a1a1a" stroke="none" stroke-width="1" />
<rect x="631.90" y="862.97" width="3.20" height="1.20" fill="#1a1a1a" stroke="none" stroke-width="1" />
<rect x="645.70" y="862.97" width="3.20" height="1.20" fill="#1a1a1a" stroke="none" stroke-width="1" />
<text x="661.10" y="867.37" font-size="9" text-anchor="middle" fill="#1a1a1a" stroke="#1a1a1a" stroke-width="0.25" textLength="11.00" lengthAdjust="spacingAndGlyphs">0.1</text>
<text x="674.90" y="867.37" font-size="9" text-anchor="middle" fill="#1a1a1a" stroke="#1a1a1a" stroke-width="0.25">1</text>
<rect x="618.10" y="877.72" width="3.20" height="1.20" fill="#1a1a1a" stroke="none" stroke-width="1" />
<rect x="631.90" y="877.72" width="3.20" height="1.20" fill="#1a1a1a" stroke="none" stroke-width="1" />
<rect x="644.50" y="878.27" width="5.60" height="1.10" fill="#1a1a1a" stroke="none" stroke-width="1" />
<rect x="646.75" y="876.02" width="1.10" height="5.60" fill="#1a1a1a" stroke="none" stroke-width="1" />
<rect x="658.30" y="878.27" width="5.60" height="1.10" fill="#1a1a1a" stroke="none" stroke-width="1" />
<rect x="660.55" y="876.02" width="1.10" height="5.60" fill="#1a1a1a" stroke="none" stroke-width="1" />
<rect x="672.10" y="878.27" width="5.60" height="1.10" fill="#1a1a1a" stroke="none" stroke-width="1" />
<rect x="674.35" y="876.02" width="1.10" height="5.60" fill="#1a1a1a" stroke="none" stroke-width="1" />
<rect x="618.10" y="892.47" width="3.20" height="1.20" fill="#1a1a1a" stroke="none" stroke-width="1" />
<rect x="630.70" y="893.02" width="5.60" height="1.10" fill="#1a1a1a" stroke="none" stroke-width="1" />
<rect x="632.95" y="890.77" width="1.10" height="5.60" fill="#1a1a1a" stroke="none" stroke-width="1" />
<rect x="644.50" y="893.02" width="5.60" height="1.10" fill="#1a1a1a" stroke="none" stroke-width="1" />
<rect x="646.75" y="890.77" width="1.10" height="5.60" fill="#1a1a1a" stroke="none" stroke-width="1" />
<rect x="658.30" y="893.02" width="5.60" height="1.10" fill="#1a1a1a" stroke="none" stroke-width="1" />
<rect x="660.55" y="890.77" width="1.10" height="5.60" fill="#1a1a1a" stroke="none" stroke-width="1" />
<rect x="672.10" y="893.02" width="5.60" height="1.10" fill="#1a1a1a" stroke="none" stroke-width="1" />
<rect x="674.35" y="890.77" width="1.10" height="5.60" fill="#1a1a1a" stroke="none" stroke-width="1" />
<text x="610.00" y="867.70" font-size="11.6" text-anchor="end" fill="#1a1a1a" stroke="#1a1a1a" stroke-width="0.25">AC1NSHBQ</text>
<text x="610.00" y="882.45" font-size="11.6" text-anchor="end" fill="#1a1a1a">CoCl<tspan font-size="9.4">2</tspan></text>
<text x="610.00" y="897.20" font-size="11.6" text-anchor="end" fill="#1a1a1a" stroke="#1a1a1a" stroke-width="0.25">Insulin</text>
</svg></body></html>
